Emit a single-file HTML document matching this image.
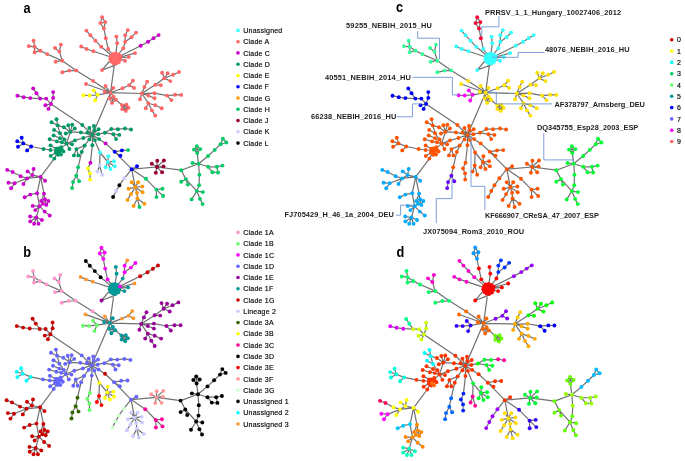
<!DOCTYPE html>
<html><head><meta charset="utf-8"><title>Figure</title>
<style>
html,body{margin:0;padding:0;background:#fff}
svg{display:block}
text{font-family:"Liberation Sans","DejaVu Sans",sans-serif;fill:#111}
.lg{font-size:7px;letter-spacing:0.22px;fill:#000;stroke:#000;stroke-width:0.15px}
.pl{font-size:14.5px;font-weight:bold;fill:#000}
.lb{font-size:7.4px;font-weight:bold;letter-spacing:0.1px;fill:#222}
</style></head><body>
<svg width="685" height="461" viewBox="0 0 685 461">
<rect width="685" height="461" fill="#fff"/>
<g transform="translate(0 0)">
<path d="M92.3 134.9L110.5 92.7M110.5 92.7L115.2 58.5M115.2 58.5L108.2 49M108.2 49L105.8 38.2M105.8 38.2L103.9 28.5M103.9 28.5L100.4 23.1M103.9 28.5L105.3 22.1M100.4 23.1L102.1 17.3M115.2 58.5L101.2 46.8M101.2 46.8L95.4 40.7M95.4 40.7L90.4 35.3M90.4 35.3L86.4 30.6M115.2 58.5L93.4 51.3M93.4 51.3L86.5 49M86.5 49L81.2 46.5M115.2 58.5L117.2 43.3M117.2 43.3L116.4 36.6M115.2 58.5L123.3 48.2M123.3 48.2L125.2 41.8M125.2 41.8L125.2 35.3M125.2 35.3L127.8 30.1M125.2 41.8L131.5 37.2M131.5 37.2L136 32.6M115.2 58.5L140.7 45.8M140.7 45.8L148.1 41.8M148.1 41.8L153.5 38.3M153.5 38.3L158.6 35.1M115.2 58.5L135 53.1M115.2 58.5L128.7 57M115.2 58.5L125 60.7M115.2 58.5L120.5 56M110.5 92.7L93.1 80.9M93.1 80.9L76.2 70.4M76.2 70.4L62.3 60.7M62.3 60.7L47.2 54.1M47.2 54.1L40.4 50.7M40.4 50.7L34.6 46.8M34.6 46.8L33.6 40.7M34.6 46.8L28.8 46.1M40.4 50.7L34.6 52.2M76.2 70.4L69.3 70.6M69.3 70.6L62.3 72.3M62.3 60.7L55.6 61.7M62.3 60.7L59.4 51.6M59.4 51.6L60.9 44.6M59.4 51.6L55 48M110.5 92.7L86 84M110.5 92.7L105.5 86M110.5 92.7L104.8 91.7M110.5 92.7L113.3 87.9M110.5 92.7L97.5 94.8M97.5 94.8L93.7 90.4M97.5 94.8L89.6 95.5M89.6 95.5L83.5 95.3M97.5 94.8L95.1 100.5M110.5 92.7L122.5 88.2M122.5 88.2L129.2 85.3M129.2 85.3L132.9 80.7M129.2 85.3L134 87.9M110.5 92.7L113.5 96.6M110.5 92.7L109.7 98.4M113.5 96.6L115.9 99.8M109.7 98.4L112 102.9M115.9 99.8L122 105.1M122 105.1L126.4 104.7M126.4 104.7L128.4 107.8M128.4 107.8L125.8 110.9M125.8 110.9L122.2 109.1M110.5 92.7L141.7 93.5M141.7 93.5L144.5 87M144.5 87L147.1 81.8M141.7 93.5L155.3 84.8M155.3 84.8L160.8 85.2M155.3 84.8L164.3 78.3M164.3 78.3L162.1 72.7M164.3 78.3L167.7 73.3M164.3 78.3L173.1 74.8M173.1 74.8L179 72M164.3 78.3L170.3 81.1M141.7 93.5L154.5 93.2M154.5 93.2L167 95.6M167 95.6L175.1 94.8M175.1 94.8L181.2 94.9M167 95.6L171.4 100.1M141.7 93.5L148.4 95.6M148.4 95.6L154.5 98.2M141.7 93.5L140 99.3M141.7 93.5L148.4 103.2M148.4 103.2L155.3 105.3M155.3 105.3L161.7 108.2M148.4 103.2L145.8 108.2M148.4 103.2L151.9 110.4M151.9 110.4L155.3 115.6M92.3 134.9L82.3 125M92.3 134.9L89.4 128M92.3 134.9L93.9 126M92.3 134.9L98.6 129.2M92.3 134.9L94.5 130.2M92.3 134.9L98.2 134.3M92.3 134.9L104.9 132.8M92.3 134.9L99.1 139.1M92.3 134.9L94.9 140.1M92.3 134.9L89.4 139.4M92.3 134.9L92.4 145.2M92.3 134.9L87.5 132.4M92.3 134.9L80.9 132.4M92.3 134.9L83.4 138M83.4 138L74.9 140.4M92.3 134.9L84.7 145.5M82.3 125L51 103.9M51 103.9L46.2 98.6M46.2 98.6L40.3 98.6M40.3 98.6L30.3 98.1M30.3 98.1L23.7 97.2M23.7 97.2L17.4 95.7M40.3 98.6L36.4 93.2M36.4 93.2L33.2 88.4M51 103.9L53.2 97.9M53.2 97.9L53.2 92.1M51 103.9L45.4 105.2M51 103.9L48.5 108.9M104.9 132.8L111.3 129M111.3 129L117.9 129.2M117.9 129.2L125 128.5M125 128.5L131 129.5M104.9 132.8L113.4 134.2M113.4 134.2L119.3 134.9M113.4 134.2L116.1 139.1M92.3 134.9L105.6 143.4M105.6 143.4L114.7 151.8M114.7 151.8L131.7 169.2M114.7 151.8L121.9 150.4M121.9 150.4L128.1 150.1M114.7 151.8L120.4 155.8M131.7 169.2L137 166.3M92.3 134.9L100 152.5M100 152.5L107.8 162M107.8 162L108.3 156.3M107.8 162L114 161.3M107.8 162L114.7 166.3M107.8 162L110.4 169M107.8 162L105.6 167.3M100 152.5L99.6 165.5M99.6 165.5L97.5 171.6M99.6 165.5L102.1 174.7M92.4 145.2L90.4 162.7M90.4 162.7L87.9 168.5M87.9 168.5L90 173.4M90 173.4L90.1 179.6M84.7 145.5L81.7 151.9M81.7 151.9L78.1 167.3M78.1 167.3L76.3 175.8M76.3 175.8L73 182.1M73 182.1L72.1 188.1M76.3 175.8L79.1 181.2M84.7 145.5L76.4 149.1M76.4 149.1L73.9 155.4M76.4 149.1L78.4 155.4M80.9 132.4L70.3 131.9M70.3 131.9L68.3 125.3M70.3 131.9L72.3 124.7M70.3 131.9L74.8 128.5M70.3 131.9L65.8 133.5M70.3 131.9L63.9 127.3M63.9 127.3L57.7 125.4M57.7 125.4L56.5 119.2M57.7 125.4L51.6 122.3M74.9 140.4L66.5 143.6M66.5 143.6L72 144.2M66.5 143.6L69.4 149M66.5 143.6L64.5 139.5M64.5 139.5L60 133.3M60 133.3L54.1 129.9M64.5 139.5L60 138.2M60 138.2L53.6 135.4M66.5 143.6L61.9 142.3M61.9 142.3L56.9 141.4M56.9 141.4L49.7 139.2M66.5 143.6L59.1 150.4M59.1 150.4L56 150.9M59.1 150.4L58.2 148.5M59.1 150.4L61.2 147.1M59.1 150.4L62 150M59.1 150.4L63.4 151.4M59.1 150.4L59.1 152.4M59.1 150.4L61 154.5M59.1 150.4L58.1 154.7M59.1 150.4L55.8 152.8M59.1 150.4L57.2 150M59.1 150.4L60.5 149.2M59.1 150.4L56.2 148.6M59.1 150.4L50.5 150M50.5 150L43.5 149M59.1 150.4L50.5 145.4M59.1 150.4L50.7 155.9M59.1 150.4L54.3 158.6M43.5 149L31.2 146.5M31.2 146.5L23.4 143.4M23.4 143.4L21.7 137.8M23.4 143.4L17.3 141.3M23.4 143.4L18 146.7M31.2 146.5L27.1 150.4M54.3 158.6L40.6 176.9M40.6 176.9L45.1 180.7M40.6 176.9L32.5 175.1M32.5 175.1L33.6 169M32.5 175.1L27.6 171.4M40.6 176.9L27.1 178.4M27.1 178.4L20.6 176.2M20.6 176.2L12.6 172M12.6 172L7.2 169.9M27.1 178.4L14.6 183.3M14.6 183.3L8.5 182.7M14.6 183.3L11.1 188.2M27.1 178.4L23.4 184M40.6 176.9L37.1 193.2M37.1 193.2L30.3 194.6M30.3 194.6L24.7 197.2M40.6 176.9L44 193.6M44 193.6L41.2 201M44 193.6L44.9 199.3M44.9 199.3L48.3 201M44.9 199.3L46.3 204.9M44.9 199.3L43 203.8M37.1 193.2L39.5 206.2M39.5 206.2L32.7 205.9M39.5 206.2L35.3 210.1M39.5 206.2L44.7 211.6M44.7 211.6L49.7 215.5M39.5 206.2L36.3 217.5M36.3 217.5L30.1 216.5M36.3 217.5L30.3 221.4M36.3 217.5L34.1 223.8M36.3 217.5L38.5 223.8M36.3 217.5L41.9 220M131.7 169.2L124.3 178.3M124.3 178.3L119.4 185.2M119.4 185.2L116.2 191M116.2 191L113.1 197M131.7 169.2L135.2 187.2M135.2 187.2L131.7 182.2M135.2 187.2L138.1 182.2M135.2 187.2L142.3 186.5M135.2 187.2L128.6 188.8M135.2 187.2L131 194.1M135.2 187.2L137 192.7M135.2 187.2L142.6 192.2M131 194.1L127.5 199.9M137 192.7L137.4 198.4M137.4 198.4L133.6 205.9M137.4 198.4L139.5 207M137.4 198.4L144.4 203.7M131.7 169.2L145.9 178.8M145.9 178.8L156.4 189.6M156.4 189.6L162.5 188.8M156.4 189.6L156.5 197.1M156.4 189.6L163.1 196M131.7 169.2L156.9 167M156.9 167L151.8 163.8M156.9 167L157.3 160.8M156.9 167L163.9 160.5M156.9 167L163.5 166.4M156.9 167L162.1 172.3M156.9 167L155.8 172.7M156.9 167L181.2 170.2M181.2 170.2L198.6 163.8M198.6 163.8L192.5 163M198.6 163.8L197.2 153.1M197.2 153.1L193.9 149.6M193.9 149.6L196.8 146.1M197.2 153.1L200.3 149.1M198.6 163.8L208.1 156M208.1 156L214.7 149.9M214.7 149.9L220.6 144.2M220.6 144.2L222.9 138.7M220.6 144.2L226.3 142.5M198.6 163.8L208.1 166.8M208.1 166.8L216.8 166.8M216.8 166.8L222.5 165.6M208.1 166.8L212.4 172.2M212.4 172.2L218 172.5M198.6 163.8L199.4 174.8M199.4 174.8L199.1 185.2M199.1 185.2L196.8 191.1M181.2 170.2L185.9 179.1M185.9 179.1L181.2 181.7M185.9 179.1L187.8 184.6M196.8 191.1L202.9 192.1M196.8 191.1L191.6 199.4M196.8 191.1L200 198.9M200 198.9L202.6 204.1M105.3 22.1L102.1 17.3M100.4 23.1L105.3 22.1M34.6 46.8L34.6 52.2M113.5 96.6L109.7 98.4M115.9 99.8L112 102.9M113.5 96.6L112 102.9M109.7 98.4L115.9 99.8M122.2 109.1L122 105.1M122 105.1L128.4 107.8M126.4 104.7L125.8 110.9M126.4 104.7L122.2 109.1M128.4 107.8L122.2 109.1M122 105.1L125.8 110.9M218 172.5L216.8 166.8M222.9 138.7L226.3 142.5M196.8 146.1L200.3 149.1M193.9 149.6L200.3 149.1M197.2 153.1L196.8 146.1M185.9 179.1L196.8 191.1M70.3 131.9L66.5 143.6M32.5 175.1L27.1 178.4M43 203.8L39.5 206.2M41.2 201L43 203.8M48.3 201L46.3 204.9M57.7 125.4L60 133.3M109.7 61L102.1 70.1M116.7 64.5L102.1 70.1" fill="none" stroke="#707070" stroke-width="1.2"/>
<g fill="#009966">
<circle cx="92.3" cy="134.9" r="1.95"/>
<circle cx="82.3" cy="125" r="1.95"/>
<circle cx="89.4" cy="128" r="1.95"/>
<circle cx="93.9" cy="126" r="1.95"/>
<circle cx="98.6" cy="129.2" r="1.95"/>
<circle cx="94.5" cy="130.2" r="1.95"/>
<circle cx="98.2" cy="134.3" r="1.95"/>
<circle cx="104.9" cy="132.8" r="1.95"/>
<circle cx="99.1" cy="139.1" r="1.95"/>
<circle cx="94.9" cy="140.1" r="1.95"/>
<circle cx="89.4" cy="139.4" r="1.95"/>
<circle cx="92.4" cy="145.2" r="1.95"/>
<circle cx="87.5" cy="132.4" r="1.95"/>
<circle cx="80.9" cy="132.4" r="1.95"/>
<circle cx="83.4" cy="138" r="1.95"/>
<circle cx="74.9" cy="140.4" r="1.95"/>
<circle cx="84.7" cy="145.5" r="1.95"/>
<circle cx="111.3" cy="129" r="1.95"/>
<circle cx="117.9" cy="129.2" r="1.95"/>
<circle cx="125" cy="128.5" r="1.95"/>
<circle cx="131" cy="129.5" r="1.95"/>
<circle cx="113.4" cy="134.2" r="1.95"/>
<circle cx="119.3" cy="134.9" r="1.95"/>
<circle cx="116.1" cy="139.1" r="1.95"/>
<circle cx="81.7" cy="151.9" r="1.95"/>
<circle cx="76.4" cy="149.1" r="1.95"/>
<circle cx="73.9" cy="155.4" r="1.95"/>
<circle cx="78.4" cy="155.4" r="1.95"/>
<circle cx="70.3" cy="131.9" r="1.95"/>
<circle cx="68.3" cy="125.3" r="1.95"/>
<circle cx="72.3" cy="124.7" r="1.95"/>
<circle cx="74.8" cy="128.5" r="1.95"/>
<circle cx="65.8" cy="133.5" r="1.95"/>
<circle cx="63.9" cy="127.3" r="1.95"/>
<circle cx="57.7" cy="125.4" r="1.95"/>
<circle cx="56.5" cy="119.2" r="1.95"/>
<circle cx="51.6" cy="122.3" r="1.95"/>
<circle cx="66.5" cy="143.6" r="1.95"/>
<circle cx="72" cy="144.2" r="1.95"/>
<circle cx="69.4" cy="149" r="1.95"/>
<circle cx="64.5" cy="139.5" r="1.95"/>
<circle cx="60" cy="133.3" r="1.95"/>
<circle cx="54.1" cy="129.9" r="1.95"/>
<circle cx="60" cy="138.2" r="1.95"/>
<circle cx="53.6" cy="135.4" r="1.95"/>
<circle cx="61.9" cy="142.3" r="1.95"/>
<circle cx="56.9" cy="141.4" r="1.95"/>
<circle cx="49.7" cy="139.2" r="1.95"/>
<circle cx="59.1" cy="150.4" r="1.95"/>
<circle cx="56" cy="150.9" r="1.95"/>
<circle cx="58.2" cy="148.5" r="1.95"/>
<circle cx="61.2" cy="147.1" r="1.95"/>
<circle cx="62" cy="150" r="1.95"/>
<circle cx="63.4" cy="151.4" r="1.95"/>
<circle cx="59.1" cy="152.4" r="1.95"/>
<circle cx="61" cy="154.5" r="1.95"/>
<circle cx="58.1" cy="154.7" r="1.95"/>
<circle cx="55.8" cy="152.8" r="1.95"/>
<circle cx="57.2" cy="150" r="1.95"/>
<circle cx="60.5" cy="149.2" r="1.95"/>
<circle cx="56.2" cy="148.6" r="1.95"/>
<circle cx="50.5" cy="150" r="1.95"/>
<circle cx="43.5" cy="149" r="1.95"/>
<circle cx="50.5" cy="145.4" r="1.95"/>
<circle cx="50.7" cy="155.9" r="1.95"/>
<circle cx="54.3" cy="158.6" r="1.95"/>
</g>
<g fill="#FF6666">
<circle cx="110.5" cy="92.7" r="1.95"/>
<circle cx="115.2" cy="58.5" r="5.3"/>
<circle cx="120.1" cy="59.5" r="1.95"/>
<circle cx="118.8" cy="62" r="1.95"/>
<circle cx="116.3" cy="63.4" r="1.95"/>
<circle cx="113.5" cy="63.2" r="1.95"/>
<circle cx="111.2" cy="61.6" r="1.95"/>
<circle cx="110.2" cy="58.9" r="1.95"/>
<circle cx="110.8" cy="56.2" r="1.95"/>
<circle cx="112.7" cy="54.1" r="1.95"/>
<circle cx="115.5" cy="53.5" r="1.95"/>
<circle cx="118.1" cy="54.5" r="1.95"/>
<circle cx="119.9" cy="56.7" r="1.95"/>
<circle cx="108.2" cy="49" r="1.95"/>
<circle cx="105.8" cy="38.2" r="1.95"/>
<circle cx="103.9" cy="28.5" r="1.95"/>
<circle cx="100.4" cy="23.1" r="1.95"/>
<circle cx="105.3" cy="22.1" r="1.95"/>
<circle cx="102.1" cy="17.3" r="1.95"/>
<circle cx="101.2" cy="46.8" r="1.95"/>
<circle cx="95.4" cy="40.7" r="1.95"/>
<circle cx="90.4" cy="35.3" r="1.95"/>
<circle cx="86.4" cy="30.6" r="1.95"/>
<circle cx="93.4" cy="51.3" r="1.95"/>
<circle cx="86.5" cy="49" r="1.95"/>
<circle cx="81.2" cy="46.5" r="1.95"/>
<circle cx="117.2" cy="43.3" r="1.95"/>
<circle cx="116.4" cy="36.6" r="1.95"/>
<circle cx="123.3" cy="48.2" r="1.95"/>
<circle cx="125.2" cy="41.8" r="1.95"/>
<circle cx="125.2" cy="35.3" r="1.95"/>
<circle cx="127.8" cy="30.1" r="1.95"/>
<circle cx="131.5" cy="37.2" r="1.95"/>
<circle cx="136" cy="32.6" r="1.95"/>
<circle cx="135" cy="53.1" r="1.95"/>
<circle cx="128.7" cy="57" r="1.95"/>
<circle cx="125" cy="60.7" r="1.95"/>
<circle cx="102.1" cy="70.1" r="1.95"/>
<circle cx="120.5" cy="56" r="1.95"/>
<circle cx="93.1" cy="80.9" r="1.95"/>
<circle cx="76.2" cy="70.4" r="1.95"/>
<circle cx="62.3" cy="60.7" r="1.95"/>
<circle cx="47.2" cy="54.1" r="1.95"/>
<circle cx="40.4" cy="50.7" r="1.95"/>
<circle cx="34.6" cy="46.8" r="1.95"/>
<circle cx="33.6" cy="40.7" r="1.95"/>
<circle cx="28.8" cy="46.1" r="1.95"/>
<circle cx="34.6" cy="52.2" r="1.95"/>
<circle cx="69.3" cy="70.6" r="1.95"/>
<circle cx="62.3" cy="72.3" r="1.95"/>
<circle cx="55.6" cy="61.7" r="1.95"/>
<circle cx="59.4" cy="51.6" r="1.95"/>
<circle cx="60.9" cy="44.6" r="1.95"/>
<circle cx="55" cy="48" r="1.95"/>
<circle cx="86" cy="84" r="1.95"/>
<circle cx="105.5" cy="86" r="1.95"/>
<circle cx="104.8" cy="91.7" r="1.95"/>
<circle cx="113.3" cy="87.9" r="1.95"/>
<circle cx="122.5" cy="88.2" r="1.95"/>
<circle cx="129.2" cy="85.3" r="1.95"/>
<circle cx="132.9" cy="80.7" r="1.95"/>
<circle cx="134" cy="87.9" r="1.95"/>
<circle cx="113.5" cy="96.6" r="1.95"/>
<circle cx="109.7" cy="98.4" r="1.95"/>
<circle cx="115.9" cy="99.8" r="1.95"/>
<circle cx="112" cy="102.9" r="1.95"/>
<circle cx="122" cy="105.1" r="1.95"/>
<circle cx="126.4" cy="104.7" r="1.95"/>
<circle cx="128.4" cy="107.8" r="1.95"/>
<circle cx="125.8" cy="110.9" r="1.95"/>
<circle cx="122.2" cy="109.1" r="1.95"/>
<circle cx="141.7" cy="93.5" r="1.95"/>
<circle cx="144.5" cy="87" r="1.95"/>
<circle cx="147.1" cy="81.8" r="1.95"/>
<circle cx="155.3" cy="84.8" r="1.95"/>
<circle cx="160.8" cy="85.2" r="1.95"/>
<circle cx="164.3" cy="78.3" r="1.95"/>
<circle cx="162.1" cy="72.7" r="1.95"/>
<circle cx="167.7" cy="73.3" r="1.95"/>
<circle cx="173.1" cy="74.8" r="1.95"/>
<circle cx="179" cy="72" r="1.95"/>
<circle cx="170.3" cy="81.1" r="1.95"/>
<circle cx="154.5" cy="93.2" r="1.95"/>
<circle cx="167" cy="95.6" r="1.95"/>
<circle cx="175.1" cy="94.8" r="1.95"/>
<circle cx="181.2" cy="94.9" r="1.95"/>
<circle cx="171.4" cy="100.1" r="1.95"/>
<circle cx="148.4" cy="95.6" r="1.95"/>
<circle cx="154.5" cy="98.2" r="1.95"/>
<circle cx="140" cy="99.3" r="1.95"/>
<circle cx="148.4" cy="103.2" r="1.95"/>
<circle cx="155.3" cy="105.3" r="1.95"/>
<circle cx="161.7" cy="108.2" r="1.95"/>
<circle cx="145.8" cy="108.2" r="1.95"/>
<circle cx="151.9" cy="110.4" r="1.95"/>
<circle cx="155.3" cy="115.6" r="1.95"/>
</g>
<g fill="#CC00CC">
<circle cx="140.7" cy="45.8" r="1.95"/>
<circle cx="148.1" cy="41.8" r="1.95"/>
<circle cx="153.5" cy="38.3" r="1.95"/>
<circle cx="158.6" cy="35.1" r="1.95"/>
<circle cx="51" cy="103.9" r="1.95"/>
<circle cx="46.2" cy="98.6" r="1.95"/>
<circle cx="40.3" cy="98.6" r="1.95"/>
<circle cx="30.3" cy="98.1" r="1.95"/>
<circle cx="23.7" cy="97.2" r="1.95"/>
<circle cx="17.4" cy="95.7" r="1.95"/>
<circle cx="36.4" cy="93.2" r="1.95"/>
<circle cx="33.2" cy="88.4" r="1.95"/>
<circle cx="53.2" cy="97.9" r="1.95"/>
<circle cx="53.2" cy="92.1" r="1.95"/>
<circle cx="45.4" cy="105.2" r="1.95"/>
<circle cx="48.5" cy="108.9" r="1.95"/>
<circle cx="105.6" cy="143.4" r="1.95"/>
<circle cx="90.4" cy="162.7" r="1.95"/>
<circle cx="40.6" cy="176.9" r="1.95"/>
<circle cx="45.1" cy="180.7" r="1.95"/>
<circle cx="32.5" cy="175.1" r="1.95"/>
<circle cx="33.6" cy="169" r="1.95"/>
<circle cx="27.6" cy="171.4" r="1.95"/>
<circle cx="27.1" cy="178.4" r="1.95"/>
<circle cx="20.6" cy="176.2" r="1.95"/>
<circle cx="12.6" cy="172" r="1.95"/>
<circle cx="7.2" cy="169.9" r="1.95"/>
<circle cx="14.6" cy="183.3" r="1.95"/>
<circle cx="8.5" cy="182.7" r="1.95"/>
<circle cx="11.1" cy="188.2" r="1.95"/>
<circle cx="23.4" cy="184" r="1.95"/>
<circle cx="37.1" cy="193.2" r="1.95"/>
<circle cx="30.3" cy="194.6" r="1.95"/>
<circle cx="24.7" cy="197.2" r="1.95"/>
<circle cx="44" cy="193.6" r="1.95"/>
<circle cx="41.2" cy="201" r="1.95"/>
<circle cx="44.9" cy="199.3" r="1.95"/>
<circle cx="48.3" cy="201" r="1.95"/>
<circle cx="46.3" cy="204.9" r="1.95"/>
<circle cx="43" cy="203.8" r="1.95"/>
<circle cx="39.5" cy="206.2" r="1.95"/>
<circle cx="32.7" cy="205.9" r="1.95"/>
<circle cx="35.3" cy="210.1" r="1.95"/>
<circle cx="44.7" cy="211.6" r="1.95"/>
<circle cx="49.7" cy="215.5" r="1.95"/>
<circle cx="36.3" cy="217.5" r="1.95"/>
<circle cx="30.1" cy="216.5" r="1.95"/>
<circle cx="30.3" cy="221.4" r="1.95"/>
<circle cx="34.1" cy="223.8" r="1.95"/>
<circle cx="38.5" cy="223.8" r="1.95"/>
<circle cx="41.9" cy="220" r="1.95"/>
</g>
<g fill="#FFFF00">
<circle cx="97.5" cy="94.8" r="1.95"/>
<circle cx="93.7" cy="90.4" r="1.95"/>
<circle cx="89.6" cy="95.5" r="1.95"/>
<circle cx="83.5" cy="95.3" r="1.95"/>
<circle cx="95.1" cy="100.5" r="1.95"/>
<circle cx="87.9" cy="168.5" r="1.95"/>
<circle cx="90" cy="173.4" r="1.95"/>
<circle cx="90.1" cy="179.6" r="1.95"/>
</g>
<g fill="#0000FF">
<circle cx="114.7" cy="151.8" r="1.95"/>
<circle cx="131.7" cy="169.2" r="1.95"/>
<circle cx="121.9" cy="150.4" r="1.95"/>
<circle cx="120.4" cy="155.8" r="1.95"/>
<circle cx="137" cy="166.3" r="1.95"/>
<circle cx="31.2" cy="146.5" r="1.95"/>
<circle cx="23.4" cy="143.4" r="1.95"/>
<circle cx="21.7" cy="137.8" r="1.95"/>
<circle cx="17.3" cy="141.3" r="1.95"/>
<circle cx="18" cy="146.7" r="1.95"/>
<circle cx="27.1" cy="150.4" r="1.95"/>
</g>
<g fill="#00CC66">
<circle cx="128.1" cy="150.1" r="1.95"/>
<circle cx="78.1" cy="167.3" r="1.95"/>
<circle cx="76.3" cy="175.8" r="1.95"/>
<circle cx="73" cy="182.1" r="1.95"/>
<circle cx="72.1" cy="188.1" r="1.95"/>
<circle cx="79.1" cy="181.2" r="1.95"/>
<circle cx="139.5" cy="207" r="1.95"/>
<circle cx="145.9" cy="178.8" r="1.95"/>
<circle cx="156.4" cy="189.6" r="1.95"/>
<circle cx="162.5" cy="188.8" r="1.95"/>
<circle cx="156.5" cy="197.1" r="1.95"/>
<circle cx="163.1" cy="196" r="1.95"/>
<circle cx="181.2" cy="170.2" r="1.95"/>
<circle cx="198.6" cy="163.8" r="1.95"/>
<circle cx="192.5" cy="163" r="1.95"/>
<circle cx="197.2" cy="153.1" r="1.95"/>
<circle cx="193.9" cy="149.6" r="1.95"/>
<circle cx="196.8" cy="146.1" r="1.95"/>
<circle cx="200.3" cy="149.1" r="1.95"/>
<circle cx="208.1" cy="156" r="1.95"/>
<circle cx="214.7" cy="149.9" r="1.95"/>
<circle cx="220.6" cy="144.2" r="1.95"/>
<circle cx="222.9" cy="138.7" r="1.95"/>
<circle cx="226.3" cy="142.5" r="1.95"/>
<circle cx="208.1" cy="166.8" r="1.95"/>
<circle cx="216.8" cy="166.8" r="1.95"/>
<circle cx="222.5" cy="165.6" r="1.95"/>
<circle cx="212.4" cy="172.2" r="1.95"/>
<circle cx="218" cy="172.5" r="1.95"/>
<circle cx="199.4" cy="174.8" r="1.95"/>
<circle cx="199.1" cy="185.2" r="1.95"/>
<circle cx="196.8" cy="191.1" r="1.95"/>
<circle cx="185.9" cy="179.1" r="1.95"/>
<circle cx="181.2" cy="181.7" r="1.95"/>
<circle cx="187.8" cy="184.6" r="1.95"/>
<circle cx="202.9" cy="192.1" r="1.95"/>
<circle cx="191.6" cy="199.4" r="1.95"/>
<circle cx="200" cy="198.9" r="1.95"/>
<circle cx="202.6" cy="204.1" r="1.95"/>
</g>
<g fill="#33FFFF">
<circle cx="100" cy="152.5" r="1.95"/>
<circle cx="107.8" cy="162" r="1.95"/>
<circle cx="108.3" cy="156.3" r="1.95"/>
<circle cx="114" cy="161.3" r="1.95"/>
<circle cx="114.7" cy="166.3" r="1.95"/>
<circle cx="110.4" cy="169" r="1.95"/>
<circle cx="105.6" cy="167.3" r="1.95"/>
</g>
<g fill="#CCCCFF">
<circle cx="99.6" cy="165.5" r="1.95"/>
<circle cx="97.5" cy="171.6" r="1.95"/>
<circle cx="102.1" cy="174.7" r="1.95"/>
<circle cx="124.3" cy="178.3" r="1.95"/>
<circle cx="116.2" cy="191" r="1.95"/>
</g>
<g fill="#000000">
<circle cx="119.4" cy="185.2" r="1.95"/>
<circle cx="113.1" cy="197" r="1.95"/>
</g>
<g fill="#FF9900">
<circle cx="135.2" cy="187.2" r="1.95"/>
<circle cx="131.7" cy="182.2" r="1.95"/>
<circle cx="138.1" cy="182.2" r="1.95"/>
<circle cx="142.3" cy="186.5" r="1.95"/>
<circle cx="128.6" cy="188.8" r="1.95"/>
<circle cx="131" cy="194.1" r="1.95"/>
<circle cx="137" cy="192.7" r="1.95"/>
<circle cx="142.6" cy="192.2" r="1.95"/>
<circle cx="127.5" cy="199.9" r="1.95"/>
<circle cx="137.4" cy="198.4" r="1.95"/>
<circle cx="133.6" cy="205.9" r="1.95"/>
<circle cx="144.4" cy="203.7" r="1.95"/>
</g>
<g fill="#990033">
<circle cx="156.9" cy="167" r="1.95"/>
<circle cx="151.8" cy="163.8" r="1.95"/>
<circle cx="157.3" cy="160.8" r="1.95"/>
<circle cx="163.9" cy="160.5" r="1.95"/>
<circle cx="163.5" cy="166.4" r="1.95"/>
<circle cx="162.1" cy="172.3" r="1.95"/>
<circle cx="155.8" cy="172.7" r="1.95"/>
</g>
</g>
<g transform="translate(-0.6 230.4)">
<path d="M92.3 134.9L110.5 92.7M110.5 92.7L115.2 58.5M115.2 58.5L108.2 49M108.2 49L105.8 38.2M105.8 38.2L103.9 28.5M103.9 28.5L100.4 23.1M103.9 28.5L105.3 22.1M100.4 23.1L102.1 17.3M115.2 58.5L101.2 46.8M101.2 46.8L95.4 40.7M95.4 40.7L90.4 35.3M90.4 35.3L86.4 30.6M115.2 58.5L93.4 51.3M93.4 51.3L86.5 49M86.5 49L81.2 46.5M115.2 58.5L117.2 43.3M117.2 43.3L116.4 36.6M115.2 58.5L123.3 48.2M123.3 48.2L125.2 41.8M125.2 41.8L125.2 35.3M125.2 35.3L127.8 30.1M125.2 41.8L131.5 37.2M131.5 37.2L136 32.6M115.2 58.5L140.7 45.8M140.7 45.8L148.1 41.8M148.1 41.8L153.5 38.3M153.5 38.3L158.6 35.1M115.2 58.5L135 53.1M115.2 58.5L128.7 57M115.2 58.5L125 60.7M115.2 58.5L120.5 56M110.5 92.7L93.1 80.9M93.1 80.9L76.2 70.4M76.2 70.4L62.3 60.7M62.3 60.7L47.2 54.1M47.2 54.1L40.4 50.7M40.4 50.7L34.6 46.8M34.6 46.8L33.6 40.7M34.6 46.8L28.8 46.1M40.4 50.7L34.6 52.2M76.2 70.4L69.3 70.6M69.3 70.6L62.3 72.3M62.3 60.7L55.6 61.7M62.3 60.7L59.4 51.6M59.4 51.6L60.9 44.6M59.4 51.6L55 48M110.5 92.7L86 84M110.5 92.7L105.5 86M110.5 92.7L104.8 91.7M110.5 92.7L113.3 87.9M110.5 92.7L97.5 94.8M97.5 94.8L93.7 90.4M97.5 94.8L89.6 95.5M89.6 95.5L83.5 95.3M97.5 94.8L95.1 100.5M110.5 92.7L122.5 88.2M122.5 88.2L129.2 85.3M129.2 85.3L132.9 80.7M129.2 85.3L134 87.9M110.5 92.7L113.5 96.6M110.5 92.7L109.7 98.4M113.5 96.6L115.9 99.8M109.7 98.4L112 102.9M115.9 99.8L122 105.1M122 105.1L126.4 104.7M126.4 104.7L128.4 107.8M128.4 107.8L125.8 110.9M125.8 110.9L122.2 109.1M110.5 92.7L141.7 93.5M141.7 93.5L144.5 87M144.5 87L147.1 81.8M141.7 93.5L155.3 84.8M155.3 84.8L160.8 85.2M155.3 84.8L164.3 78.3M164.3 78.3L162.1 72.7M164.3 78.3L167.7 73.3M164.3 78.3L173.1 74.8M173.1 74.8L179 72M164.3 78.3L170.3 81.1M141.7 93.5L154.5 93.2M154.5 93.2L167 95.6M167 95.6L175.1 94.8M175.1 94.8L181.2 94.9M167 95.6L171.4 100.1M141.7 93.5L148.4 95.6M148.4 95.6L154.5 98.2M141.7 93.5L140 99.3M141.7 93.5L148.4 103.2M148.4 103.2L155.3 105.3M155.3 105.3L161.7 108.2M148.4 103.2L145.8 108.2M148.4 103.2L151.9 110.4M151.9 110.4L155.3 115.6M92.3 134.9L82.3 125M92.3 134.9L89.4 128M92.3 134.9L93.9 126M92.3 134.9L98.6 129.2M92.3 134.9L94.5 130.2M92.3 134.9L98.2 134.3M92.3 134.9L104.9 132.8M92.3 134.9L99.1 139.1M92.3 134.9L94.9 140.1M92.3 134.9L89.4 139.4M92.3 134.9L92.4 145.2M92.3 134.9L87.5 132.4M92.3 134.9L80.9 132.4M92.3 134.9L83.4 138M83.4 138L74.9 140.4M92.3 134.9L84.7 145.5M82.3 125L51 103.9M51 103.9L46.2 98.6M46.2 98.6L40.3 98.6M40.3 98.6L30.3 98.1M30.3 98.1L23.7 97.2M23.7 97.2L17.4 95.7M40.3 98.6L36.4 93.2M36.4 93.2L33.2 88.4M51 103.9L53.2 97.9M53.2 97.9L53.2 92.1M51 103.9L45.4 105.2M51 103.9L48.5 108.9M104.9 132.8L111.3 129M111.3 129L117.9 129.2M117.9 129.2L125 128.5M125 128.5L131 129.5M104.9 132.8L113.4 134.2M113.4 134.2L119.3 134.9M113.4 134.2L116.1 139.1M92.3 134.9L105.6 143.4M105.6 143.4L114.7 151.8M114.7 151.8L131.7 169.2M114.7 151.8L121.9 150.4M121.9 150.4L128.1 150.1M114.7 151.8L120.4 155.8M131.7 169.2L137 166.3M92.3 134.9L100 152.5M100 152.5L107.8 162M107.8 162L108.3 156.3M107.8 162L114 161.3M107.8 162L114.7 166.3M107.8 162L110.4 169M107.8 162L105.6 167.3M100 152.5L99.6 165.5M99.6 165.5L97.5 171.6M99.6 165.5L102.1 174.7M92.4 145.2L90.4 162.7M90.4 162.7L87.9 168.5M87.9 168.5L90 173.4M90 173.4L90.1 179.6M84.7 145.5L81.7 151.9M81.7 151.9L78.1 167.3M78.1 167.3L76.3 175.8M76.3 175.8L73 182.1M73 182.1L72.1 188.1M76.3 175.8L79.1 181.2M84.7 145.5L76.4 149.1M76.4 149.1L73.9 155.4M76.4 149.1L78.4 155.4M80.9 132.4L70.3 131.9M70.3 131.9L68.3 125.3M70.3 131.9L72.3 124.7M70.3 131.9L74.8 128.5M70.3 131.9L65.8 133.5M70.3 131.9L63.9 127.3M63.9 127.3L57.7 125.4M57.7 125.4L56.5 119.2M57.7 125.4L51.6 122.3M74.9 140.4L66.5 143.6M66.5 143.6L72 144.2M66.5 143.6L69.4 149M66.5 143.6L64.5 139.5M64.5 139.5L60 133.3M60 133.3L54.1 129.9M64.5 139.5L60 138.2M60 138.2L53.6 135.4M66.5 143.6L61.9 142.3M61.9 142.3L56.9 141.4M56.9 141.4L49.7 139.2M66.5 143.6L59.1 150.4M59.1 150.4L56 150.9M59.1 150.4L58.2 148.5M59.1 150.4L61.2 147.1M59.1 150.4L62 150M59.1 150.4L63.4 151.4M59.1 150.4L59.1 152.4M59.1 150.4L61 154.5M59.1 150.4L58.1 154.7M59.1 150.4L55.8 152.8M59.1 150.4L57.2 150M59.1 150.4L60.5 149.2M59.1 150.4L56.2 148.6M59.1 150.4L50.5 150M50.5 150L43.5 149M59.1 150.4L50.5 145.4M59.1 150.4L50.7 155.9M59.1 150.4L54.3 158.6M43.5 149L31.2 146.5M31.2 146.5L23.4 143.4M23.4 143.4L21.7 137.8M23.4 143.4L17.3 141.3M23.4 143.4L18 146.7M31.2 146.5L27.1 150.4M54.3 158.6L40.6 176.9M40.6 176.9L45.1 180.7M40.6 176.9L32.5 175.1M32.5 175.1L33.6 169M32.5 175.1L27.6 171.4M40.6 176.9L27.1 178.4M27.1 178.4L20.6 176.2M20.6 176.2L12.6 172M12.6 172L7.2 169.9M27.1 178.4L14.6 183.3M14.6 183.3L8.5 182.7M14.6 183.3L11.1 188.2M27.1 178.4L23.4 184M40.6 176.9L37.1 193.2M37.1 193.2L30.3 194.6M30.3 194.6L24.7 197.2M40.6 176.9L44 193.6M44 193.6L41.2 201M44 193.6L44.9 199.3M44.9 199.3L48.3 201M44.9 199.3L46.3 204.9M44.9 199.3L43 203.8M37.1 193.2L39.5 206.2M39.5 206.2L32.7 205.9M39.5 206.2L35.3 210.1M39.5 206.2L44.7 211.6M44.7 211.6L49.7 215.5M39.5 206.2L36.3 217.5M36.3 217.5L30.1 216.5M36.3 217.5L30.3 221.4M36.3 217.5L34.1 223.8M36.3 217.5L38.5 223.8M36.3 217.5L41.9 220M131.7 169.2L124.3 178.3M124.3 178.3L119.4 185.2M119.4 185.2L116.2 191M116.2 191L113.1 197M131.7 169.2L135.2 187.2M135.2 187.2L131.7 182.2M135.2 187.2L138.1 182.2M135.2 187.2L142.3 186.5M135.2 187.2L128.6 188.8M135.2 187.2L131 194.1M135.2 187.2L137 192.7M135.2 187.2L142.6 192.2M131 194.1L127.5 199.9M137 192.7L137.4 198.4M137.4 198.4L133.6 205.9M137.4 198.4L139.5 207M137.4 198.4L144.4 203.7M131.7 169.2L145.9 178.8M145.9 178.8L156.4 189.6M156.4 189.6L162.5 188.8M156.4 189.6L156.5 197.1M156.4 189.6L163.1 196M131.7 169.2L156.9 167M156.9 167L151.8 163.8M156.9 167L157.3 160.8M156.9 167L163.9 160.5M156.9 167L163.5 166.4M156.9 167L162.1 172.3M156.9 167L155.8 172.7M156.9 167L181.2 170.2M181.2 170.2L198.6 163.8M198.6 163.8L192.5 163M198.6 163.8L197.2 153.1M197.2 153.1L193.9 149.6M193.9 149.6L196.8 146.1M197.2 153.1L200.3 149.1M198.6 163.8L208.1 156M208.1 156L214.7 149.9M214.7 149.9L220.6 144.2M220.6 144.2L222.9 138.7M220.6 144.2L226.3 142.5M198.6 163.8L208.1 166.8M208.1 166.8L216.8 166.8M216.8 166.8L222.5 165.6M208.1 166.8L212.4 172.2M212.4 172.2L218 172.5M198.6 163.8L199.4 174.8M199.4 174.8L199.1 185.2M199.1 185.2L196.8 191.1M181.2 170.2L185.9 179.1M185.9 179.1L181.2 181.7M185.9 179.1L187.8 184.6M196.8 191.1L202.9 192.1M196.8 191.1L191.6 199.4M196.8 191.1L200 198.9M200 198.9L202.6 204.1M105.3 22.1L102.1 17.3M100.4 23.1L105.3 22.1M34.6 46.8L34.6 52.2M113.5 96.6L109.7 98.4M115.9 99.8L112 102.9M113.5 96.6L112 102.9M109.7 98.4L115.9 99.8M122.2 109.1L122 105.1M122 105.1L128.4 107.8M126.4 104.7L125.8 110.9M126.4 104.7L122.2 109.1M128.4 107.8L122.2 109.1M122 105.1L125.8 110.9M218 172.5L216.8 166.8M222.9 138.7L226.3 142.5M196.8 146.1L200.3 149.1M193.9 149.6L200.3 149.1M197.2 153.1L196.8 146.1M185.9 179.1L196.8 191.1M70.3 131.9L66.5 143.6M32.5 175.1L27.1 178.4M43 203.8L39.5 206.2M41.2 201L43 203.8M48.3 201L46.3 204.9M57.7 125.4L60 133.3M109.7 61L102.1 70.1M116.7 64.5L102.1 70.1" fill="none" stroke="#707070" stroke-width="1.2"/>
<g fill="#6666FF">
<circle cx="92.3" cy="134.9" r="1.95"/>
<circle cx="82.3" cy="125" r="1.95"/>
<circle cx="89.4" cy="128" r="1.95"/>
<circle cx="93.9" cy="126" r="1.95"/>
<circle cx="98.6" cy="129.2" r="1.95"/>
<circle cx="94.5" cy="130.2" r="1.95"/>
<circle cx="98.2" cy="134.3" r="1.95"/>
<circle cx="104.9" cy="132.8" r="1.95"/>
<circle cx="99.1" cy="139.1" r="1.95"/>
<circle cx="94.9" cy="140.1" r="1.95"/>
<circle cx="89.4" cy="139.4" r="1.95"/>
<circle cx="92.4" cy="145.2" r="1.95"/>
<circle cx="87.5" cy="132.4" r="1.95"/>
<circle cx="80.9" cy="132.4" r="1.95"/>
<circle cx="83.4" cy="138" r="1.95"/>
<circle cx="74.9" cy="140.4" r="1.95"/>
<circle cx="84.7" cy="145.5" r="1.95"/>
<circle cx="111.3" cy="129" r="1.95"/>
<circle cx="117.9" cy="129.2" r="1.95"/>
<circle cx="125" cy="128.5" r="1.95"/>
<circle cx="131" cy="129.5" r="1.95"/>
<circle cx="113.4" cy="134.2" r="1.95"/>
<circle cx="119.3" cy="134.9" r="1.95"/>
<circle cx="116.1" cy="139.1" r="1.95"/>
<circle cx="114.7" cy="151.8" r="1.95"/>
<circle cx="131.7" cy="169.2" r="1.95"/>
<circle cx="121.9" cy="150.4" r="1.95"/>
<circle cx="128.1" cy="150.1" r="1.95"/>
<circle cx="120.4" cy="155.8" r="1.95"/>
<circle cx="137" cy="166.3" r="1.95"/>
<circle cx="81.7" cy="151.9" r="1.95"/>
<circle cx="76.4" cy="149.1" r="1.95"/>
<circle cx="73.9" cy="155.4" r="1.95"/>
<circle cx="78.4" cy="155.4" r="1.95"/>
<circle cx="70.3" cy="131.9" r="1.95"/>
<circle cx="68.3" cy="125.3" r="1.95"/>
<circle cx="72.3" cy="124.7" r="1.95"/>
<circle cx="74.8" cy="128.5" r="1.95"/>
<circle cx="65.8" cy="133.5" r="1.95"/>
<circle cx="63.9" cy="127.3" r="1.95"/>
<circle cx="57.7" cy="125.4" r="1.95"/>
<circle cx="56.5" cy="119.2" r="1.95"/>
<circle cx="51.6" cy="122.3" r="1.95"/>
<circle cx="66.5" cy="143.6" r="1.95"/>
<circle cx="72" cy="144.2" r="1.95"/>
<circle cx="69.4" cy="149" r="1.95"/>
<circle cx="64.5" cy="139.5" r="1.95"/>
<circle cx="60" cy="133.3" r="1.95"/>
<circle cx="54.1" cy="129.9" r="1.95"/>
<circle cx="60" cy="138.2" r="1.95"/>
<circle cx="53.6" cy="135.4" r="1.95"/>
<circle cx="61.9" cy="142.3" r="1.95"/>
<circle cx="56.9" cy="141.4" r="1.95"/>
<circle cx="49.7" cy="139.2" r="1.95"/>
<circle cx="59.1" cy="150.4" r="1.95"/>
<circle cx="56" cy="150.9" r="1.95"/>
<circle cx="58.2" cy="148.5" r="1.95"/>
<circle cx="61.2" cy="147.1" r="1.95"/>
<circle cx="62" cy="150" r="1.95"/>
<circle cx="63.4" cy="151.4" r="1.95"/>
<circle cx="59.1" cy="152.4" r="1.95"/>
<circle cx="61" cy="154.5" r="1.95"/>
<circle cx="58.1" cy="154.7" r="1.95"/>
<circle cx="55.8" cy="152.8" r="1.95"/>
<circle cx="57.2" cy="150" r="1.95"/>
<circle cx="60.5" cy="149.2" r="1.95"/>
<circle cx="56.2" cy="148.6" r="1.95"/>
<circle cx="50.5" cy="150" r="1.95"/>
<circle cx="43.5" cy="149" r="1.95"/>
<circle cx="50.5" cy="145.4" r="1.95"/>
<circle cx="50.7" cy="155.9" r="1.95"/>
<circle cx="54.3" cy="158.6" r="1.95"/>
</g>
<g fill="#009999">
<circle cx="110.5" cy="92.7" r="1.95"/>
<circle cx="115.2" cy="58.5" r="5.3"/>
<circle cx="120.1" cy="59.5" r="1.95"/>
<circle cx="118.8" cy="62" r="1.95"/>
<circle cx="116.3" cy="63.4" r="1.95"/>
<circle cx="113.5" cy="63.2" r="1.95"/>
<circle cx="111.2" cy="61.6" r="1.95"/>
<circle cx="110.2" cy="58.9" r="1.95"/>
<circle cx="110.8" cy="56.2" r="1.95"/>
<circle cx="112.7" cy="54.1" r="1.95"/>
<circle cx="115.5" cy="53.5" r="1.95"/>
<circle cx="118.1" cy="54.5" r="1.95"/>
<circle cx="119.9" cy="56.7" r="1.95"/>
<circle cx="117.2" cy="43.3" r="1.95"/>
<circle cx="116.4" cy="36.6" r="1.95"/>
<circle cx="123.3" cy="48.2" r="1.95"/>
<circle cx="128.7" cy="57" r="1.95"/>
<circle cx="125" cy="60.7" r="1.95"/>
<circle cx="104.8" cy="91.7" r="1.95"/>
<circle cx="113.3" cy="87.9" r="1.95"/>
<circle cx="113.5" cy="96.6" r="1.95"/>
<circle cx="109.7" cy="98.4" r="1.95"/>
<circle cx="115.9" cy="99.8" r="1.95"/>
<circle cx="112" cy="102.9" r="1.95"/>
<circle cx="122" cy="105.1" r="1.95"/>
<circle cx="126.4" cy="104.7" r="1.95"/>
<circle cx="128.4" cy="107.8" r="1.95"/>
<circle cx="125.8" cy="110.9" r="1.95"/>
<circle cx="122.2" cy="109.1" r="1.95"/>
</g>
<g fill="#FF00FF">
<circle cx="108.2" cy="49" r="1.95"/>
<circle cx="105.8" cy="38.2" r="1.95"/>
<circle cx="103.9" cy="28.5" r="1.95"/>
<circle cx="100.4" cy="23.1" r="1.95"/>
<circle cx="105.3" cy="22.1" r="1.95"/>
<circle cx="102.1" cy="17.3" r="1.95"/>
<circle cx="125.2" cy="41.8" r="1.95"/>
<circle cx="125.2" cy="35.3" r="1.95"/>
<circle cx="131.5" cy="37.2" r="1.95"/>
<circle cx="136" cy="32.6" r="1.95"/>
<circle cx="120.5" cy="56" r="1.95"/>
</g>
<g fill="#000000">
<circle cx="101.2" cy="46.8" r="1.95"/>
<circle cx="95.4" cy="40.7" r="1.95"/>
<circle cx="90.4" cy="35.3" r="1.95"/>
<circle cx="86.4" cy="30.6" r="1.95"/>
<circle cx="181.2" cy="170.2" r="1.95"/>
<circle cx="198.6" cy="163.8" r="1.95"/>
<circle cx="192.5" cy="163" r="1.95"/>
<circle cx="197.2" cy="153.1" r="1.95"/>
<circle cx="193.9" cy="149.6" r="1.95"/>
<circle cx="196.8" cy="146.1" r="1.95"/>
<circle cx="200.3" cy="149.1" r="1.95"/>
<circle cx="208.1" cy="156" r="1.95"/>
<circle cx="214.7" cy="149.9" r="1.95"/>
<circle cx="220.6" cy="144.2" r="1.95"/>
<circle cx="222.9" cy="138.7" r="1.95"/>
<circle cx="226.3" cy="142.5" r="1.95"/>
<circle cx="208.1" cy="166.8" r="1.95"/>
<circle cx="216.8" cy="166.8" r="1.95"/>
<circle cx="222.5" cy="165.6" r="1.95"/>
<circle cx="212.4" cy="172.2" r="1.95"/>
<circle cx="218" cy="172.5" r="1.95"/>
<circle cx="199.4" cy="174.8" r="1.95"/>
<circle cx="199.1" cy="185.2" r="1.95"/>
<circle cx="196.8" cy="191.1" r="1.95"/>
<circle cx="185.9" cy="179.1" r="1.95"/>
<circle cx="181.2" cy="181.7" r="1.95"/>
<circle cx="187.8" cy="184.6" r="1.95"/>
<circle cx="202.9" cy="192.1" r="1.95"/>
<circle cx="191.6" cy="199.4" r="1.95"/>
<circle cx="200" cy="198.9" r="1.95"/>
<circle cx="202.6" cy="204.1" r="1.95"/>
</g>
<g fill="#FF9933">
<circle cx="93.4" cy="51.3" r="1.95"/>
<circle cx="86.5" cy="49" r="1.95"/>
<circle cx="81.2" cy="46.5" r="1.95"/>
<circle cx="127.8" cy="30.1" r="1.95"/>
<circle cx="135" cy="53.1" r="1.95"/>
<circle cx="86" cy="84" r="1.95"/>
<circle cx="105.5" cy="86" r="1.95"/>
<circle cx="122.5" cy="88.2" r="1.95"/>
<circle cx="129.2" cy="85.3" r="1.95"/>
<circle cx="132.9" cy="80.7" r="1.95"/>
<circle cx="134" cy="87.9" r="1.95"/>
</g>
<g fill="#CC0000">
<circle cx="140.7" cy="45.8" r="1.95"/>
<circle cx="148.1" cy="41.8" r="1.95"/>
<circle cx="153.5" cy="38.3" r="1.95"/>
<circle cx="158.6" cy="35.1" r="1.95"/>
<circle cx="51" cy="103.9" r="1.95"/>
<circle cx="46.2" cy="98.6" r="1.95"/>
<circle cx="40.3" cy="98.6" r="1.95"/>
<circle cx="30.3" cy="98.1" r="1.95"/>
<circle cx="23.7" cy="97.2" r="1.95"/>
<circle cx="17.4" cy="95.7" r="1.95"/>
<circle cx="36.4" cy="93.2" r="1.95"/>
<circle cx="33.2" cy="88.4" r="1.95"/>
<circle cx="53.2" cy="97.9" r="1.95"/>
<circle cx="53.2" cy="92.1" r="1.95"/>
<circle cx="45.4" cy="105.2" r="1.95"/>
<circle cx="48.5" cy="108.9" r="1.95"/>
<circle cx="105.6" cy="143.4" r="1.95"/>
<circle cx="40.6" cy="176.9" r="1.95"/>
<circle cx="45.1" cy="180.7" r="1.95"/>
<circle cx="32.5" cy="175.1" r="1.95"/>
<circle cx="33.6" cy="169" r="1.95"/>
<circle cx="27.6" cy="171.4" r="1.95"/>
<circle cx="27.1" cy="178.4" r="1.95"/>
<circle cx="20.6" cy="176.2" r="1.95"/>
<circle cx="12.6" cy="172" r="1.95"/>
<circle cx="7.2" cy="169.9" r="1.95"/>
<circle cx="14.6" cy="183.3" r="1.95"/>
<circle cx="8.5" cy="182.7" r="1.95"/>
<circle cx="11.1" cy="188.2" r="1.95"/>
<circle cx="23.4" cy="184" r="1.95"/>
<circle cx="37.1" cy="193.2" r="1.95"/>
<circle cx="30.3" cy="194.6" r="1.95"/>
<circle cx="24.7" cy="197.2" r="1.95"/>
<circle cx="44" cy="193.6" r="1.95"/>
<circle cx="41.2" cy="201" r="1.95"/>
<circle cx="44.9" cy="199.3" r="1.95"/>
<circle cx="48.3" cy="201" r="1.95"/>
<circle cx="46.3" cy="204.9" r="1.95"/>
<circle cx="43" cy="203.8" r="1.95"/>
<circle cx="39.5" cy="206.2" r="1.95"/>
<circle cx="32.7" cy="205.9" r="1.95"/>
<circle cx="35.3" cy="210.1" r="1.95"/>
<circle cx="44.7" cy="211.6" r="1.95"/>
<circle cx="49.7" cy="215.5" r="1.95"/>
<circle cx="36.3" cy="217.5" r="1.95"/>
<circle cx="30.1" cy="216.5" r="1.95"/>
<circle cx="30.3" cy="221.4" r="1.95"/>
<circle cx="34.1" cy="223.8" r="1.95"/>
<circle cx="38.5" cy="223.8" r="1.95"/>
<circle cx="41.9" cy="220" r="1.95"/>
</g>
<g fill="#990099">
<circle cx="102.1" cy="70.1" r="1.95"/>
<circle cx="141.7" cy="93.5" r="1.95"/>
<circle cx="144.5" cy="87" r="1.95"/>
<circle cx="147.1" cy="81.8" r="1.95"/>
<circle cx="155.3" cy="84.8" r="1.95"/>
<circle cx="160.8" cy="85.2" r="1.95"/>
<circle cx="164.3" cy="78.3" r="1.95"/>
<circle cx="162.1" cy="72.7" r="1.95"/>
<circle cx="167.7" cy="73.3" r="1.95"/>
<circle cx="173.1" cy="74.8" r="1.95"/>
<circle cx="179" cy="72" r="1.95"/>
<circle cx="170.3" cy="81.1" r="1.95"/>
<circle cx="154.5" cy="93.2" r="1.95"/>
<circle cx="167" cy="95.6" r="1.95"/>
<circle cx="175.1" cy="94.8" r="1.95"/>
<circle cx="181.2" cy="94.9" r="1.95"/>
<circle cx="171.4" cy="100.1" r="1.95"/>
<circle cx="148.4" cy="95.6" r="1.95"/>
<circle cx="154.5" cy="98.2" r="1.95"/>
<circle cx="140" cy="99.3" r="1.95"/>
<circle cx="148.4" cy="103.2" r="1.95"/>
<circle cx="155.3" cy="105.3" r="1.95"/>
<circle cx="161.7" cy="108.2" r="1.95"/>
<circle cx="145.8" cy="108.2" r="1.95"/>
<circle cx="151.9" cy="110.4" r="1.95"/>
<circle cx="155.3" cy="115.6" r="1.95"/>
</g>
<g fill="#FF99CC">
<circle cx="93.1" cy="80.9" r="1.95"/>
<circle cx="76.2" cy="70.4" r="1.95"/>
<circle cx="62.3" cy="60.7" r="1.95"/>
<circle cx="47.2" cy="54.1" r="1.95"/>
<circle cx="40.4" cy="50.7" r="1.95"/>
<circle cx="34.6" cy="46.8" r="1.95"/>
<circle cx="33.6" cy="40.7" r="1.95"/>
<circle cx="28.8" cy="46.1" r="1.95"/>
<circle cx="34.6" cy="52.2" r="1.95"/>
<circle cx="69.3" cy="70.6" r="1.95"/>
<circle cx="62.3" cy="72.3" r="1.95"/>
<circle cx="55.6" cy="61.7" r="1.95"/>
<circle cx="59.4" cy="51.6" r="1.95"/>
<circle cx="60.9" cy="44.6" r="1.95"/>
<circle cx="55" cy="48" r="1.95"/>
</g>
<g fill="#66FF66">
<circle cx="97.5" cy="94.8" r="1.95"/>
<circle cx="93.7" cy="90.4" r="1.95"/>
<circle cx="89.6" cy="95.5" r="1.95"/>
<circle cx="83.5" cy="95.3" r="1.95"/>
<circle cx="95.1" cy="100.5" r="1.95"/>
<circle cx="90.4" cy="162.7" r="1.95"/>
<circle cx="87.9" cy="168.5" r="1.95"/>
<circle cx="90" cy="173.4" r="1.95"/>
<circle cx="90.1" cy="179.6" r="1.95"/>
</g>
<g fill="#FFFF00">
<circle cx="100" cy="152.5" r="1.95"/>
<circle cx="107.8" cy="162" r="1.95"/>
<circle cx="108.3" cy="156.3" r="1.95"/>
<circle cx="114" cy="161.3" r="1.95"/>
<circle cx="114.7" cy="166.3" r="1.95"/>
<circle cx="110.4" cy="169" r="1.95"/>
<circle cx="105.6" cy="167.3" r="1.95"/>
</g>
<g fill="#FF0000">
<circle cx="99.6" cy="165.5" r="1.95"/>
<circle cx="97.5" cy="171.6" r="1.95"/>
<circle cx="102.1" cy="174.7" r="1.95"/>
</g>
<g fill="#336600">
<circle cx="78.1" cy="167.3" r="1.95"/>
<circle cx="76.3" cy="175.8" r="1.95"/>
<circle cx="73" cy="182.1" r="1.95"/>
<circle cx="72.1" cy="188.1" r="1.95"/>
<circle cx="79.1" cy="181.2" r="1.95"/>
</g>
<g fill="#00FFFF">
<circle cx="31.2" cy="146.5" r="1.95"/>
<circle cx="23.4" cy="143.4" r="1.95"/>
<circle cx="21.7" cy="137.8" r="1.95"/>
<circle cx="17.3" cy="141.3" r="1.95"/>
<circle cx="18" cy="146.7" r="1.95"/>
<circle cx="27.1" cy="150.4" r="1.95"/>
</g>
<g fill="#CCFFCC">
<circle cx="124.3" cy="178.3" r="1.95"/>
<circle cx="119.4" cy="185.2" r="1.95"/>
<circle cx="116.2" cy="191" r="1.95"/>
<circle cx="113.1" cy="197" r="1.95"/>
</g>
<g fill="#CCCCFF">
<circle cx="135.2" cy="187.2" r="1.95"/>
<circle cx="131.7" cy="182.2" r="1.95"/>
<circle cx="138.1" cy="182.2" r="1.95"/>
<circle cx="142.3" cy="186.5" r="1.95"/>
<circle cx="128.6" cy="188.8" r="1.95"/>
<circle cx="131" cy="194.1" r="1.95"/>
<circle cx="137" cy="192.7" r="1.95"/>
<circle cx="142.6" cy="192.2" r="1.95"/>
<circle cx="127.5" cy="199.9" r="1.95"/>
<circle cx="137.4" cy="198.4" r="1.95"/>
<circle cx="133.6" cy="205.9" r="1.95"/>
<circle cx="139.5" cy="207" r="1.95"/>
<circle cx="144.4" cy="203.7" r="1.95"/>
</g>
<g fill="#FF0099">
<circle cx="145.9" cy="178.8" r="1.95"/>
<circle cx="156.4" cy="189.6" r="1.95"/>
<circle cx="162.5" cy="188.8" r="1.95"/>
<circle cx="156.5" cy="197.1" r="1.95"/>
<circle cx="163.1" cy="196" r="1.95"/>
</g>
<g fill="#FF9999">
<circle cx="156.9" cy="167" r="1.95"/>
<circle cx="151.8" cy="163.8" r="1.95"/>
<circle cx="157.3" cy="160.8" r="1.95"/>
<circle cx="163.9" cy="160.5" r="1.95"/>
<circle cx="163.5" cy="166.4" r="1.95"/>
<circle cx="162.1" cy="172.3" r="1.95"/>
<circle cx="155.8" cy="172.7" r="1.95"/>
</g>
</g>
<g transform="translate(375.1 0)">
<path d="M92.3 134.9L110.5 92.7M110.5 92.7L115.2 58.5M115.2 58.5L108.2 49M108.2 49L105.8 38.2M105.8 38.2L103.9 28.5M103.9 28.5L100.4 23.1M103.9 28.5L105.3 22.1M100.4 23.1L102.1 17.3M115.2 58.5L101.2 46.8M101.2 46.8L95.4 40.7M95.4 40.7L90.4 35.3M90.4 35.3L86.4 30.6M115.2 58.5L93.4 51.3M93.4 51.3L86.5 49M86.5 49L81.2 46.5M115.2 58.5L117.2 43.3M117.2 43.3L116.4 36.6M115.2 58.5L123.3 48.2M123.3 48.2L125.2 41.8M125.2 41.8L125.2 35.3M125.2 35.3L127.8 30.1M125.2 41.8L131.5 37.2M131.5 37.2L136 32.6M115.2 58.5L140.7 45.8M140.7 45.8L148.1 41.8M148.1 41.8L153.5 38.3M153.5 38.3L158.6 35.1M115.2 58.5L135 53.1M115.2 58.5L128.7 57M115.2 58.5L125 60.7M115.2 58.5L120.5 56M110.5 92.7L93.1 80.9M93.1 80.9L76.2 70.4M76.2 70.4L62.3 60.7M62.3 60.7L47.2 54.1M47.2 54.1L40.4 50.7M40.4 50.7L34.6 46.8M34.6 46.8L33.6 40.7M34.6 46.8L28.8 46.1M40.4 50.7L34.6 52.2M76.2 70.4L69.3 70.6M69.3 70.6L62.3 72.3M62.3 60.7L55.6 61.7M62.3 60.7L59.4 51.6M59.4 51.6L60.9 44.6M59.4 51.6L55 48M110.5 92.7L86 84M110.5 92.7L105.5 86M110.5 92.7L104.8 91.7M110.5 92.7L113.3 87.9M110.5 92.7L97.5 94.8M97.5 94.8L93.7 90.4M97.5 94.8L89.6 95.5M89.6 95.5L83.5 95.3M97.5 94.8L95.1 100.5M110.5 92.7L122.5 88.2M122.5 88.2L129.2 85.3M129.2 85.3L132.9 80.7M129.2 85.3L134 87.9M110.5 92.7L113.5 96.6M110.5 92.7L109.7 98.4M113.5 96.6L115.9 99.8M109.7 98.4L112 102.9M115.9 99.8L122 105.1M122 105.1L126.4 104.7M126.4 104.7L128.4 107.8M128.4 107.8L125.8 110.9M125.8 110.9L122.2 109.1M110.5 92.7L141.7 93.5M141.7 93.5L144.5 87M144.5 87L147.1 81.8M141.7 93.5L155.3 84.8M155.3 84.8L160.8 85.2M155.3 84.8L164.3 78.3M164.3 78.3L162.1 72.7M164.3 78.3L167.7 73.3M164.3 78.3L173.1 74.8M173.1 74.8L179 72M164.3 78.3L170.3 81.1M141.7 93.5L154.5 93.2M154.5 93.2L167 95.6M167 95.6L175.1 94.8M175.1 94.8L181.2 94.9M167 95.6L171.4 100.1M141.7 93.5L148.4 95.6M148.4 95.6L154.5 98.2M141.7 93.5L140 99.3M141.7 93.5L148.4 103.2M148.4 103.2L155.3 105.3M155.3 105.3L161.7 108.2M148.4 103.2L145.8 108.2M148.4 103.2L151.9 110.4M151.9 110.4L155.3 115.6M92.3 134.9L82.3 125M92.3 134.9L89.4 128M92.3 134.9L93.9 126M92.3 134.9L98.6 129.2M92.3 134.9L94.5 130.2M92.3 134.9L98.2 134.3M92.3 134.9L104.9 132.8M92.3 134.9L99.1 139.1M92.3 134.9L94.9 140.1M92.3 134.9L89.4 139.4M92.3 134.9L92.4 145.2M92.3 134.9L87.5 132.4M92.3 134.9L80.9 132.4M92.3 134.9L83.4 138M83.4 138L74.9 140.4M92.3 134.9L84.7 145.5M82.3 125L51 103.9M51 103.9L46.2 98.6M46.2 98.6L40.3 98.6M40.3 98.6L30.3 98.1M30.3 98.1L23.7 97.2M23.7 97.2L17.4 95.7M40.3 98.6L36.4 93.2M36.4 93.2L33.2 88.4M51 103.9L53.2 97.9M53.2 97.9L53.2 92.1M51 103.9L45.4 105.2M51 103.9L48.5 108.9M104.9 132.8L111.3 129M111.3 129L117.9 129.2M117.9 129.2L125 128.5M125 128.5L131 129.5M104.9 132.8L113.4 134.2M113.4 134.2L119.3 134.9M113.4 134.2L116.1 139.1M92.3 134.9L105.6 143.4M105.6 143.4L114.7 151.8M114.7 151.8L131.7 169.2M114.7 151.8L121.9 150.4M121.9 150.4L128.1 150.1M114.7 151.8L120.4 155.8M131.7 169.2L137 166.3M92.3 134.9L100 152.5M100 152.5L107.8 162M107.8 162L108.3 156.3M107.8 162L114 161.3M107.8 162L114.7 166.3M107.8 162L110.4 169M107.8 162L105.6 167.3M100 152.5L99.6 165.5M99.6 165.5L97.5 171.6M99.6 165.5L102.1 174.7M92.4 145.2L90.4 162.7M90.4 162.7L87.9 168.5M87.9 168.5L90 173.4M90 173.4L90.1 179.6M84.7 145.5L81.7 151.9M81.7 151.9L78.1 167.3M78.1 167.3L76.3 175.8M76.3 175.8L73 182.1M73 182.1L72.1 188.1M76.3 175.8L79.1 181.2M84.7 145.5L76.4 149.1M76.4 149.1L73.9 155.4M76.4 149.1L78.4 155.4M80.9 132.4L70.3 131.9M70.3 131.9L68.3 125.3M70.3 131.9L72.3 124.7M70.3 131.9L74.8 128.5M70.3 131.9L65.8 133.5M70.3 131.9L63.9 127.3M63.9 127.3L57.7 125.4M57.7 125.4L56.5 119.2M57.7 125.4L51.6 122.3M74.9 140.4L66.5 143.6M66.5 143.6L72 144.2M66.5 143.6L69.4 149M66.5 143.6L64.5 139.5M64.5 139.5L60 133.3M60 133.3L54.1 129.9M64.5 139.5L60 138.2M60 138.2L53.6 135.4M66.5 143.6L61.9 142.3M61.9 142.3L56.9 141.4M56.9 141.4L49.7 139.2M66.5 143.6L59.1 150.4M59.1 150.4L56 150.9M59.1 150.4L58.2 148.5M59.1 150.4L61.2 147.1M59.1 150.4L62 150M59.1 150.4L63.4 151.4M59.1 150.4L59.1 152.4M59.1 150.4L61 154.5M59.1 150.4L58.1 154.7M59.1 150.4L55.8 152.8M59.1 150.4L57.2 150M59.1 150.4L60.5 149.2M59.1 150.4L56.2 148.6M59.1 150.4L50.5 150M50.5 150L43.5 149M59.1 150.4L50.5 145.4M59.1 150.4L50.7 155.9M59.1 150.4L54.3 158.6M43.5 149L31.2 146.5M31.2 146.5L23.4 143.4M23.4 143.4L21.7 137.8M23.4 143.4L17.3 141.3M23.4 143.4L18 146.7M31.2 146.5L27.1 150.4M54.3 158.6L40.6 176.9M40.6 176.9L45.1 180.7M40.6 176.9L32.5 175.1M32.5 175.1L33.6 169M32.5 175.1L27.6 171.4M40.6 176.9L27.1 178.4M27.1 178.4L20.6 176.2M20.6 176.2L12.6 172M12.6 172L7.2 169.9M27.1 178.4L14.6 183.3M14.6 183.3L8.5 182.7M14.6 183.3L11.1 188.2M27.1 178.4L23.4 184M40.6 176.9L37.1 193.2M37.1 193.2L30.3 194.6M30.3 194.6L24.7 197.2M40.6 176.9L44 193.6M44 193.6L41.2 201M44 193.6L44.9 199.3M44.9 199.3L48.3 201M44.9 199.3L46.3 204.9M44.9 199.3L43 203.8M37.1 193.2L39.5 206.2M39.5 206.2L32.7 205.9M39.5 206.2L35.3 210.1M39.5 206.2L44.7 211.6M44.7 211.6L49.7 215.5M39.5 206.2L36.3 217.5M36.3 217.5L30.1 216.5M36.3 217.5L30.3 221.4M36.3 217.5L34.1 223.8M36.3 217.5L38.5 223.8M36.3 217.5L41.9 220M131.7 169.2L124.3 178.3M124.3 178.3L119.4 185.2M119.4 185.2L116.2 191M116.2 191L113.1 197M131.7 169.2L135.2 187.2M135.2 187.2L131.7 182.2M135.2 187.2L138.1 182.2M135.2 187.2L142.3 186.5M135.2 187.2L128.6 188.8M135.2 187.2L131 194.1M135.2 187.2L137 192.7M135.2 187.2L142.6 192.2M131 194.1L127.5 199.9M137 192.7L137.4 198.4M137.4 198.4L133.6 205.9M137.4 198.4L139.5 207M137.4 198.4L144.4 203.7M131.7 169.2L145.9 178.8M145.9 178.8L156.4 189.6M156.4 189.6L162.5 188.8M156.4 189.6L156.5 197.1M156.4 189.6L163.1 196M131.7 169.2L156.9 167M156.9 167L151.8 163.8M156.9 167L157.3 160.8M156.9 167L163.9 160.5M156.9 167L163.5 166.4M156.9 167L162.1 172.3M156.9 167L155.8 172.7M156.9 167L181.2 170.2M181.2 170.2L198.6 163.8M198.6 163.8L192.5 163M198.6 163.8L197.2 153.1M197.2 153.1L193.9 149.6M193.9 149.6L196.8 146.1M197.2 153.1L200.3 149.1M198.6 163.8L208.1 156M208.1 156L214.7 149.9M214.7 149.9L220.6 144.2M220.6 144.2L222.9 138.7M220.6 144.2L226.3 142.5M198.6 163.8L208.1 166.8M208.1 166.8L216.8 166.8M216.8 166.8L222.5 165.6M208.1 166.8L212.4 172.2M212.4 172.2L218 172.5M198.6 163.8L199.4 174.8M199.4 174.8L199.1 185.2M199.1 185.2L196.8 191.1M181.2 170.2L185.9 179.1M185.9 179.1L181.2 181.7M185.9 179.1L187.8 184.6M196.8 191.1L202.9 192.1M196.8 191.1L191.6 199.4M196.8 191.1L200 198.9M200 198.9L202.6 204.1M105.3 22.1L102.1 17.3M100.4 23.1L105.3 22.1M34.6 46.8L34.6 52.2M113.5 96.6L109.7 98.4M115.9 99.8L112 102.9M113.5 96.6L112 102.9M109.7 98.4L115.9 99.8M122.2 109.1L122 105.1M122 105.1L128.4 107.8M126.4 104.7L125.8 110.9M126.4 104.7L122.2 109.1M128.4 107.8L122.2 109.1M122 105.1L125.8 110.9M218 172.5L216.8 166.8M222.9 138.7L226.3 142.5M196.8 146.1L200.3 149.1M193.9 149.6L200.3 149.1M197.2 153.1L196.8 146.1M185.9 179.1L196.8 191.1M70.3 131.9L66.5 143.6M32.5 175.1L27.1 178.4M43 203.8L39.5 206.2M41.2 201L43 203.8M48.3 201L46.3 204.9M57.7 125.4L60 133.3M109.7 61L102.1 70.1M116.7 64.5L102.1 70.1" fill="none" stroke="#707070" stroke-width="1.2"/>
<g fill="#FF5500">
<circle cx="92.3" cy="134.9" r="1.95"/>
<circle cx="82.3" cy="125" r="1.95"/>
<circle cx="89.4" cy="128" r="1.95"/>
<circle cx="93.9" cy="126" r="1.95"/>
<circle cx="98.6" cy="129.2" r="1.95"/>
<circle cx="94.5" cy="130.2" r="1.95"/>
<circle cx="98.2" cy="134.3" r="1.95"/>
<circle cx="104.9" cy="132.8" r="1.95"/>
<circle cx="99.1" cy="139.1" r="1.95"/>
<circle cx="94.9" cy="140.1" r="1.95"/>
<circle cx="89.4" cy="139.4" r="1.95"/>
<circle cx="92.4" cy="145.2" r="1.95"/>
<circle cx="87.5" cy="132.4" r="1.95"/>
<circle cx="80.9" cy="132.4" r="1.95"/>
<circle cx="83.4" cy="138" r="1.95"/>
<circle cx="74.9" cy="140.4" r="1.95"/>
<circle cx="84.7" cy="145.5" r="1.95"/>
<circle cx="111.3" cy="129" r="1.95"/>
<circle cx="117.9" cy="129.2" r="1.95"/>
<circle cx="125" cy="128.5" r="1.95"/>
<circle cx="131" cy="129.5" r="1.95"/>
<circle cx="113.4" cy="134.2" r="1.95"/>
<circle cx="119.3" cy="134.9" r="1.95"/>
<circle cx="116.1" cy="139.1" r="1.95"/>
<circle cx="105.6" cy="143.4" r="1.95"/>
<circle cx="114.7" cy="151.8" r="1.95"/>
<circle cx="131.7" cy="169.2" r="1.95"/>
<circle cx="121.9" cy="150.4" r="1.95"/>
<circle cx="128.1" cy="150.1" r="1.95"/>
<circle cx="120.4" cy="155.8" r="1.95"/>
<circle cx="137" cy="166.3" r="1.95"/>
<circle cx="100" cy="152.5" r="1.95"/>
<circle cx="107.8" cy="162" r="1.95"/>
<circle cx="108.3" cy="156.3" r="1.95"/>
<circle cx="114" cy="161.3" r="1.95"/>
<circle cx="114.7" cy="166.3" r="1.95"/>
<circle cx="110.4" cy="169" r="1.95"/>
<circle cx="105.6" cy="167.3" r="1.95"/>
<circle cx="99.6" cy="165.5" r="1.95"/>
<circle cx="97.5" cy="171.6" r="1.95"/>
<circle cx="102.1" cy="174.7" r="1.95"/>
<circle cx="90.4" cy="162.7" r="1.95"/>
<circle cx="87.9" cy="168.5" r="1.95"/>
<circle cx="90" cy="173.4" r="1.95"/>
<circle cx="90.1" cy="179.6" r="1.95"/>
<circle cx="81.7" cy="151.9" r="1.95"/>
<circle cx="78.1" cy="167.3" r="1.95"/>
<circle cx="76.4" cy="149.1" r="1.95"/>
<circle cx="73.9" cy="155.4" r="1.95"/>
<circle cx="78.4" cy="155.4" r="1.95"/>
<circle cx="70.3" cy="131.9" r="1.95"/>
<circle cx="68.3" cy="125.3" r="1.95"/>
<circle cx="72.3" cy="124.7" r="1.95"/>
<circle cx="74.8" cy="128.5" r="1.95"/>
<circle cx="65.8" cy="133.5" r="1.95"/>
<circle cx="63.9" cy="127.3" r="1.95"/>
<circle cx="57.7" cy="125.4" r="1.95"/>
<circle cx="56.5" cy="119.2" r="1.95"/>
<circle cx="51.6" cy="122.3" r="1.95"/>
<circle cx="66.5" cy="143.6" r="1.95"/>
<circle cx="72" cy="144.2" r="1.95"/>
<circle cx="69.4" cy="149" r="1.95"/>
<circle cx="64.5" cy="139.5" r="1.95"/>
<circle cx="60" cy="133.3" r="1.95"/>
<circle cx="54.1" cy="129.9" r="1.95"/>
<circle cx="60" cy="138.2" r="1.95"/>
<circle cx="53.6" cy="135.4" r="1.95"/>
<circle cx="61.9" cy="142.3" r="1.95"/>
<circle cx="56.9" cy="141.4" r="1.95"/>
<circle cx="49.7" cy="139.2" r="1.95"/>
<circle cx="59.1" cy="150.4" r="1.95"/>
<circle cx="56" cy="150.9" r="1.95"/>
<circle cx="58.2" cy="148.5" r="1.95"/>
<circle cx="61.2" cy="147.1" r="1.95"/>
<circle cx="62" cy="150" r="1.95"/>
<circle cx="63.4" cy="151.4" r="1.95"/>
<circle cx="59.1" cy="152.4" r="1.95"/>
<circle cx="61" cy="154.5" r="1.95"/>
<circle cx="58.1" cy="154.7" r="1.95"/>
<circle cx="55.8" cy="152.8" r="1.95"/>
<circle cx="57.2" cy="150" r="1.95"/>
<circle cx="60.5" cy="149.2" r="1.95"/>
<circle cx="56.2" cy="148.6" r="1.95"/>
<circle cx="50.5" cy="150" r="1.95"/>
<circle cx="43.5" cy="149" r="1.95"/>
<circle cx="50.5" cy="145.4" r="1.95"/>
<circle cx="50.7" cy="155.9" r="1.95"/>
<circle cx="54.3" cy="158.6" r="1.95"/>
<circle cx="31.2" cy="146.5" r="1.95"/>
<circle cx="23.4" cy="143.4" r="1.95"/>
<circle cx="21.7" cy="137.8" r="1.95"/>
<circle cx="17.3" cy="141.3" r="1.95"/>
<circle cx="18" cy="146.7" r="1.95"/>
<circle cx="27.1" cy="150.4" r="1.95"/>
<circle cx="124.3" cy="178.3" r="1.95"/>
<circle cx="119.4" cy="185.2" r="1.95"/>
<circle cx="116.2" cy="191" r="1.95"/>
<circle cx="113.1" cy="197" r="1.95"/>
<circle cx="135.2" cy="187.2" r="1.95"/>
<circle cx="131.7" cy="182.2" r="1.95"/>
<circle cx="138.1" cy="182.2" r="1.95"/>
<circle cx="142.3" cy="186.5" r="1.95"/>
<circle cx="128.6" cy="188.8" r="1.95"/>
<circle cx="131" cy="194.1" r="1.95"/>
<circle cx="137" cy="192.7" r="1.95"/>
<circle cx="142.6" cy="192.2" r="1.95"/>
<circle cx="127.5" cy="199.9" r="1.95"/>
<circle cx="137.4" cy="198.4" r="1.95"/>
<circle cx="133.6" cy="205.9" r="1.95"/>
<circle cx="139.5" cy="207" r="1.95"/>
<circle cx="144.4" cy="203.7" r="1.95"/>
<circle cx="145.9" cy="178.8" r="1.95"/>
<circle cx="156.4" cy="189.6" r="1.95"/>
<circle cx="162.5" cy="188.8" r="1.95"/>
<circle cx="156.5" cy="197.1" r="1.95"/>
<circle cx="163.1" cy="196" r="1.95"/>
<circle cx="156.9" cy="167" r="1.95"/>
<circle cx="151.8" cy="163.8" r="1.95"/>
<circle cx="157.3" cy="160.8" r="1.95"/>
<circle cx="163.9" cy="160.5" r="1.95"/>
<circle cx="163.5" cy="166.4" r="1.95"/>
<circle cx="162.1" cy="172.3" r="1.95"/>
<circle cx="155.8" cy="172.7" r="1.95"/>
</g>
<g fill="#FFE100">
<circle cx="110.5" cy="92.7" r="1.95"/>
<circle cx="93.1" cy="80.9" r="1.95"/>
<circle cx="86" cy="84" r="1.95"/>
<circle cx="105.5" cy="86" r="1.95"/>
<circle cx="104.8" cy="91.7" r="1.95"/>
<circle cx="113.3" cy="87.9" r="1.95"/>
<circle cx="122.5" cy="88.2" r="1.95"/>
<circle cx="129.2" cy="85.3" r="1.95"/>
<circle cx="132.9" cy="80.7" r="1.95"/>
<circle cx="134" cy="87.9" r="1.95"/>
<circle cx="113.5" cy="96.6" r="1.95"/>
<circle cx="109.7" cy="98.4" r="1.95"/>
<circle cx="115.9" cy="99.8" r="1.95"/>
<circle cx="112" cy="102.9" r="1.95"/>
<circle cx="122" cy="105.1" r="1.95"/>
<circle cx="126.4" cy="104.7" r="1.95"/>
<circle cx="128.4" cy="107.8" r="1.95"/>
<circle cx="125.8" cy="110.9" r="1.95"/>
<circle cx="122.2" cy="109.1" r="1.95"/>
<circle cx="141.7" cy="93.5" r="1.95"/>
<circle cx="144.5" cy="87" r="1.95"/>
<circle cx="147.1" cy="81.8" r="1.95"/>
<circle cx="155.3" cy="84.8" r="1.95"/>
<circle cx="160.8" cy="85.2" r="1.95"/>
<circle cx="164.3" cy="78.3" r="1.95"/>
<circle cx="162.1" cy="72.7" r="1.95"/>
<circle cx="167.7" cy="73.3" r="1.95"/>
<circle cx="173.1" cy="74.8" r="1.95"/>
<circle cx="179" cy="72" r="1.95"/>
<circle cx="170.3" cy="81.1" r="1.95"/>
<circle cx="154.5" cy="93.2" r="1.95"/>
<circle cx="167" cy="95.6" r="1.95"/>
<circle cx="175.1" cy="94.8" r="1.95"/>
<circle cx="181.2" cy="94.9" r="1.95"/>
<circle cx="171.4" cy="100.1" r="1.95"/>
<circle cx="148.4" cy="95.6" r="1.95"/>
<circle cx="154.5" cy="98.2" r="1.95"/>
<circle cx="140" cy="99.3" r="1.95"/>
<circle cx="148.4" cy="103.2" r="1.95"/>
<circle cx="155.3" cy="105.3" r="1.95"/>
<circle cx="161.7" cy="108.2" r="1.95"/>
<circle cx="145.8" cy="108.2" r="1.95"/>
<circle cx="151.9" cy="110.4" r="1.95"/>
<circle cx="155.3" cy="115.6" r="1.95"/>
</g>
<g fill="#33FFFF">
<circle cx="115.2" cy="58.5" r="5.3"/>
<circle cx="120.1" cy="59.5" r="1.95"/>
<circle cx="118.8" cy="62" r="1.95"/>
<circle cx="116.3" cy="63.4" r="1.95"/>
<circle cx="113.5" cy="63.2" r="1.95"/>
<circle cx="111.2" cy="61.6" r="1.95"/>
<circle cx="110.2" cy="58.9" r="1.95"/>
<circle cx="110.8" cy="56.2" r="1.95"/>
<circle cx="112.7" cy="54.1" r="1.95"/>
<circle cx="115.5" cy="53.5" r="1.95"/>
<circle cx="118.1" cy="54.5" r="1.95"/>
<circle cx="119.9" cy="56.7" r="1.95"/>
<circle cx="108.2" cy="49" r="1.95"/>
<circle cx="101.2" cy="46.8" r="1.95"/>
<circle cx="95.4" cy="40.7" r="1.95"/>
<circle cx="90.4" cy="35.3" r="1.95"/>
<circle cx="86.4" cy="30.6" r="1.95"/>
<circle cx="93.4" cy="51.3" r="1.95"/>
<circle cx="86.5" cy="49" r="1.95"/>
<circle cx="81.2" cy="46.5" r="1.95"/>
<circle cx="117.2" cy="43.3" r="1.95"/>
<circle cx="116.4" cy="36.6" r="1.95"/>
<circle cx="123.3" cy="48.2" r="1.95"/>
<circle cx="125.2" cy="41.8" r="1.95"/>
<circle cx="125.2" cy="35.3" r="1.95"/>
<circle cx="127.8" cy="30.1" r="1.95"/>
<circle cx="131.5" cy="37.2" r="1.95"/>
<circle cx="136" cy="32.6" r="1.95"/>
<circle cx="140.7" cy="45.8" r="1.95"/>
<circle cx="148.1" cy="41.8" r="1.95"/>
<circle cx="153.5" cy="38.3" r="1.95"/>
<circle cx="158.6" cy="35.1" r="1.95"/>
<circle cx="135" cy="53.1" r="1.95"/>
<circle cx="128.7" cy="57" r="1.95"/>
<circle cx="125" cy="60.7" r="1.95"/>
<circle cx="102.1" cy="70.1" r="1.95"/>
<circle cx="120.5" cy="56" r="1.95"/>
</g>
<g fill="#FF0033">
<circle cx="105.8" cy="38.2" r="1.95"/>
<circle cx="103.9" cy="28.5" r="1.95"/>
<circle cx="100.4" cy="23.1" r="1.95"/>
<circle cx="105.3" cy="22.1" r="1.95"/>
<circle cx="102.1" cy="17.3" r="1.95"/>
</g>
<g fill="#33FF99">
<circle cx="76.2" cy="70.4" r="1.95"/>
<circle cx="62.3" cy="60.7" r="1.95"/>
<circle cx="47.2" cy="54.1" r="1.95"/>
<circle cx="40.4" cy="50.7" r="1.95"/>
<circle cx="34.6" cy="46.8" r="1.95"/>
<circle cx="33.6" cy="40.7" r="1.95"/>
<circle cx="28.8" cy="46.1" r="1.95"/>
<circle cx="34.6" cy="52.2" r="1.95"/>
<circle cx="69.3" cy="70.6" r="1.95"/>
<circle cx="62.3" cy="72.3" r="1.95"/>
<circle cx="55.6" cy="61.7" r="1.95"/>
<circle cx="59.4" cy="51.6" r="1.95"/>
<circle cx="60.9" cy="44.6" r="1.95"/>
<circle cx="55" cy="48" r="1.95"/>
</g>
<g fill="#FF00FF">
<circle cx="97.5" cy="94.8" r="1.95"/>
<circle cx="93.7" cy="90.4" r="1.95"/>
<circle cx="89.6" cy="95.5" r="1.95"/>
<circle cx="83.5" cy="95.3" r="1.95"/>
<circle cx="95.1" cy="100.5" r="1.95"/>
</g>
<g fill="#0000FF">
<circle cx="51" cy="103.9" r="1.95"/>
<circle cx="46.2" cy="98.6" r="1.95"/>
<circle cx="40.3" cy="98.6" r="1.95"/>
<circle cx="30.3" cy="98.1" r="1.95"/>
<circle cx="23.7" cy="97.2" r="1.95"/>
<circle cx="17.4" cy="95.7" r="1.95"/>
<circle cx="36.4" cy="93.2" r="1.95"/>
<circle cx="33.2" cy="88.4" r="1.95"/>
<circle cx="53.2" cy="97.9" r="1.95"/>
<circle cx="53.2" cy="92.1" r="1.95"/>
<circle cx="45.4" cy="105.2" r="1.95"/>
<circle cx="48.5" cy="108.9" r="1.95"/>
</g>
<g fill="#6600FF">
<circle cx="76.3" cy="175.8" r="1.95"/>
<circle cx="73" cy="182.1" r="1.95"/>
<circle cx="72.1" cy="188.1" r="1.95"/>
<circle cx="79.1" cy="181.2" r="1.95"/>
</g>
<g fill="#00AAFF">
<circle cx="40.6" cy="176.9" r="1.95"/>
<circle cx="45.1" cy="180.7" r="1.95"/>
<circle cx="32.5" cy="175.1" r="1.95"/>
<circle cx="33.6" cy="169" r="1.95"/>
<circle cx="27.6" cy="171.4" r="1.95"/>
<circle cx="27.1" cy="178.4" r="1.95"/>
<circle cx="20.6" cy="176.2" r="1.95"/>
<circle cx="12.6" cy="172" r="1.95"/>
<circle cx="7.2" cy="169.9" r="1.95"/>
<circle cx="14.6" cy="183.3" r="1.95"/>
<circle cx="8.5" cy="182.7" r="1.95"/>
<circle cx="11.1" cy="188.2" r="1.95"/>
<circle cx="23.4" cy="184" r="1.95"/>
<circle cx="37.1" cy="193.2" r="1.95"/>
<circle cx="30.3" cy="194.6" r="1.95"/>
<circle cx="24.7" cy="197.2" r="1.95"/>
<circle cx="44" cy="193.6" r="1.95"/>
<circle cx="41.2" cy="201" r="1.95"/>
<circle cx="44.9" cy="199.3" r="1.95"/>
<circle cx="48.3" cy="201" r="1.95"/>
<circle cx="46.3" cy="204.9" r="1.95"/>
<circle cx="43" cy="203.8" r="1.95"/>
<circle cx="39.5" cy="206.2" r="1.95"/>
<circle cx="32.7" cy="205.9" r="1.95"/>
<circle cx="35.3" cy="210.1" r="1.95"/>
<circle cx="44.7" cy="211.6" r="1.95"/>
<circle cx="49.7" cy="215.5" r="1.95"/>
<circle cx="36.3" cy="217.5" r="1.95"/>
<circle cx="30.1" cy="216.5" r="1.95"/>
<circle cx="30.3" cy="221.4" r="1.95"/>
<circle cx="34.1" cy="223.8" r="1.95"/>
<circle cx="38.5" cy="223.8" r="1.95"/>
<circle cx="41.9" cy="220" r="1.95"/>
</g>
<g fill="#00FF33">
<circle cx="181.2" cy="170.2" r="1.95"/>
<circle cx="198.6" cy="163.8" r="1.95"/>
<circle cx="192.5" cy="163" r="1.95"/>
<circle cx="197.2" cy="153.1" r="1.95"/>
<circle cx="193.9" cy="149.6" r="1.95"/>
<circle cx="196.8" cy="146.1" r="1.95"/>
<circle cx="200.3" cy="149.1" r="1.95"/>
<circle cx="208.1" cy="156" r="1.95"/>
<circle cx="214.7" cy="149.9" r="1.95"/>
<circle cx="220.6" cy="144.2" r="1.95"/>
<circle cx="222.9" cy="138.7" r="1.95"/>
<circle cx="226.3" cy="142.5" r="1.95"/>
<circle cx="208.1" cy="166.8" r="1.95"/>
<circle cx="216.8" cy="166.8" r="1.95"/>
<circle cx="222.5" cy="165.6" r="1.95"/>
<circle cx="212.4" cy="172.2" r="1.95"/>
<circle cx="218" cy="172.5" r="1.95"/>
<circle cx="199.4" cy="174.8" r="1.95"/>
<circle cx="199.1" cy="185.2" r="1.95"/>
<circle cx="196.8" cy="191.1" r="1.95"/>
<circle cx="185.9" cy="179.1" r="1.95"/>
<circle cx="181.2" cy="181.7" r="1.95"/>
<circle cx="187.8" cy="184.6" r="1.95"/>
<circle cx="202.9" cy="192.1" r="1.95"/>
<circle cx="191.6" cy="199.4" r="1.95"/>
<circle cx="200" cy="198.9" r="1.95"/>
<circle cx="202.6" cy="204.1" r="1.95"/>
</g>
</g>
<g transform="translate(372.87 230.11) scale(1.002 1.005)">
<path d="M92.3 134.9L110.5 92.7M110.5 92.7L115.2 58.5M115.2 58.5L108.2 49M108.2 49L105.8 38.2M105.8 38.2L103.9 28.5M103.9 28.5L100.4 23.1M103.9 28.5L105.3 22.1M100.4 23.1L102.1 17.3M115.2 58.5L101.2 46.8M101.2 46.8L95.4 40.7M95.4 40.7L90.4 35.3M90.4 35.3L86.4 30.6M115.2 58.5L93.4 51.3M93.4 51.3L86.5 49M86.5 49L81.2 46.5M115.2 58.5L117.2 43.3M117.2 43.3L116.4 36.6M115.2 58.5L123.3 48.2M123.3 48.2L125.2 41.8M125.2 41.8L125.2 35.3M125.2 35.3L127.8 30.1M125.2 41.8L131.5 37.2M131.5 37.2L136 32.6M115.2 58.5L140.7 45.8M140.7 45.8L148.1 41.8M148.1 41.8L153.5 38.3M153.5 38.3L158.6 35.1M115.2 58.5L135 53.1M115.2 58.5L128.7 57M115.2 58.5L125 60.7M115.2 58.5L120.5 56M110.5 92.7L93.1 80.9M93.1 80.9L76.2 70.4M76.2 70.4L62.3 60.7M62.3 60.7L47.2 54.1M47.2 54.1L40.4 50.7M40.4 50.7L34.6 46.8M34.6 46.8L33.6 40.7M34.6 46.8L28.8 46.1M40.4 50.7L34.6 52.2M76.2 70.4L69.3 70.6M69.3 70.6L62.3 72.3M62.3 60.7L55.6 61.7M62.3 60.7L59.4 51.6M59.4 51.6L60.9 44.6M59.4 51.6L55 48M110.5 92.7L86 84M110.5 92.7L105.5 86M110.5 92.7L104.8 91.7M110.5 92.7L113.3 87.9M110.5 92.7L97.5 94.8M97.5 94.8L93.7 90.4M97.5 94.8L89.6 95.5M89.6 95.5L83.5 95.3M97.5 94.8L95.1 100.5M110.5 92.7L122.5 88.2M122.5 88.2L129.2 85.3M129.2 85.3L132.9 80.7M129.2 85.3L134 87.9M110.5 92.7L113.5 96.6M110.5 92.7L109.7 98.4M113.5 96.6L115.9 99.8M109.7 98.4L112 102.9M115.9 99.8L122 105.1M122 105.1L126.4 104.7M126.4 104.7L128.4 107.8M128.4 107.8L125.8 110.9M125.8 110.9L122.2 109.1M110.5 92.7L141.7 93.5M141.7 93.5L144.5 87M144.5 87L147.1 81.8M141.7 93.5L155.3 84.8M155.3 84.8L160.8 85.2M155.3 84.8L164.3 78.3M164.3 78.3L162.1 72.7M164.3 78.3L167.7 73.3M164.3 78.3L173.1 74.8M173.1 74.8L179 72M164.3 78.3L170.3 81.1M141.7 93.5L154.5 93.2M154.5 93.2L167 95.6M167 95.6L175.1 94.8M175.1 94.8L181.2 94.9M167 95.6L171.4 100.1M141.7 93.5L148.4 95.6M148.4 95.6L154.5 98.2M141.7 93.5L140 99.3M141.7 93.5L148.4 103.2M148.4 103.2L155.3 105.3M155.3 105.3L161.7 108.2M148.4 103.2L145.8 108.2M148.4 103.2L151.9 110.4M151.9 110.4L155.3 115.6M92.3 134.9L82.3 125M92.3 134.9L89.4 128M92.3 134.9L93.9 126M92.3 134.9L98.6 129.2M92.3 134.9L94.5 130.2M92.3 134.9L98.2 134.3M92.3 134.9L104.9 132.8M92.3 134.9L99.1 139.1M92.3 134.9L94.9 140.1M92.3 134.9L89.4 139.4M92.3 134.9L92.4 145.2M92.3 134.9L87.5 132.4M92.3 134.9L80.9 132.4M92.3 134.9L83.4 138M83.4 138L74.9 140.4M92.3 134.9L84.7 145.5M82.3 125L51 103.9M51 103.9L46.2 98.6M46.2 98.6L40.3 98.6M40.3 98.6L30.3 98.1M30.3 98.1L23.7 97.2M23.7 97.2L17.4 95.7M40.3 98.6L36.4 93.2M36.4 93.2L33.2 88.4M51 103.9L53.2 97.9M53.2 97.9L53.2 92.1M51 103.9L45.4 105.2M51 103.9L48.5 108.9M104.9 132.8L111.3 129M111.3 129L117.9 129.2M117.9 129.2L125 128.5M125 128.5L131 129.5M104.9 132.8L113.4 134.2M113.4 134.2L119.3 134.9M113.4 134.2L116.1 139.1M92.3 134.9L105.6 143.4M105.6 143.4L114.7 151.8M114.7 151.8L131.7 169.2M114.7 151.8L121.9 150.4M121.9 150.4L128.1 150.1M114.7 151.8L120.4 155.8M131.7 169.2L137 166.3M92.3 134.9L100 152.5M100 152.5L107.8 162M107.8 162L108.3 156.3M107.8 162L114 161.3M107.8 162L114.7 166.3M107.8 162L110.4 169M107.8 162L105.6 167.3M100 152.5L99.6 165.5M99.6 165.5L97.5 171.6M99.6 165.5L102.1 174.7M92.4 145.2L90.4 162.7M90.4 162.7L87.9 168.5M87.9 168.5L90 173.4M90 173.4L90.1 179.6M84.7 145.5L81.7 151.9M81.7 151.9L78.1 167.3M78.1 167.3L76.3 175.8M76.3 175.8L73 182.1M73 182.1L72.1 188.1M76.3 175.8L79.1 181.2M84.7 145.5L76.4 149.1M76.4 149.1L73.9 155.4M76.4 149.1L78.4 155.4M80.9 132.4L70.3 131.9M70.3 131.9L68.3 125.3M70.3 131.9L72.3 124.7M70.3 131.9L74.8 128.5M70.3 131.9L65.8 133.5M70.3 131.9L63.9 127.3M63.9 127.3L57.7 125.4M57.7 125.4L56.5 119.2M57.7 125.4L51.6 122.3M74.9 140.4L66.5 143.6M66.5 143.6L72 144.2M66.5 143.6L69.4 149M66.5 143.6L64.5 139.5M64.5 139.5L60 133.3M60 133.3L54.1 129.9M64.5 139.5L60 138.2M60 138.2L53.6 135.4M66.5 143.6L61.9 142.3M61.9 142.3L56.9 141.4M56.9 141.4L49.7 139.2M66.5 143.6L59.1 150.4M59.1 150.4L56 150.9M59.1 150.4L58.2 148.5M59.1 150.4L61.2 147.1M59.1 150.4L62 150M59.1 150.4L63.4 151.4M59.1 150.4L59.1 152.4M59.1 150.4L61 154.5M59.1 150.4L58.1 154.7M59.1 150.4L55.8 152.8M59.1 150.4L57.2 150M59.1 150.4L60.5 149.2M59.1 150.4L56.2 148.6M59.1 150.4L50.5 150M50.5 150L43.5 149M59.1 150.4L50.5 145.4M59.1 150.4L50.7 155.9M59.1 150.4L54.3 158.6M43.5 149L31.2 146.5M31.2 146.5L23.4 143.4M23.4 143.4L21.7 137.8M23.4 143.4L17.3 141.3M23.4 143.4L18 146.7M31.2 146.5L27.1 150.4M54.3 158.6L40.6 176.9M40.6 176.9L45.1 180.7M40.6 176.9L32.5 175.1M32.5 175.1L33.6 169M32.5 175.1L27.6 171.4M40.6 176.9L27.1 178.4M27.1 178.4L20.6 176.2M20.6 176.2L12.6 172M12.6 172L7.2 169.9M27.1 178.4L14.6 183.3M14.6 183.3L8.5 182.7M14.6 183.3L11.1 188.2M27.1 178.4L23.4 184M40.6 176.9L37.1 193.2M37.1 193.2L30.3 194.6M30.3 194.6L24.7 197.2M40.6 176.9L44 193.6M44 193.6L41.2 201M44 193.6L44.9 199.3M44.9 199.3L48.3 201M44.9 199.3L46.3 204.9M44.9 199.3L43 203.8M37.1 193.2L39.5 206.2M39.5 206.2L32.7 205.9M39.5 206.2L35.3 210.1M39.5 206.2L44.7 211.6M44.7 211.6L49.7 215.5M39.5 206.2L36.3 217.5M36.3 217.5L30.1 216.5M36.3 217.5L30.3 221.4M36.3 217.5L34.1 223.8M36.3 217.5L38.5 223.8M36.3 217.5L41.9 220M131.7 169.2L124.3 178.3M124.3 178.3L119.4 185.2M119.4 185.2L116.2 191M116.2 191L113.1 197M131.7 169.2L135.2 187.2M135.2 187.2L131.7 182.2M135.2 187.2L138.1 182.2M135.2 187.2L142.3 186.5M135.2 187.2L128.6 188.8M135.2 187.2L131 194.1M135.2 187.2L137 192.7M135.2 187.2L142.6 192.2M131 194.1L127.5 199.9M137 192.7L137.4 198.4M137.4 198.4L133.6 205.9M137.4 198.4L139.5 207M137.4 198.4L144.4 203.7M131.7 169.2L145.9 178.8M145.9 178.8L156.4 189.6M156.4 189.6L162.5 188.8M156.4 189.6L156.5 197.1M156.4 189.6L163.1 196M131.7 169.2L156.9 167M156.9 167L151.8 163.8M156.9 167L157.3 160.8M156.9 167L163.9 160.5M156.9 167L163.5 166.4M156.9 167L162.1 172.3M156.9 167L155.8 172.7M156.9 167L181.2 170.2M181.2 170.2L198.6 163.8M198.6 163.8L192.5 163M198.6 163.8L197.2 153.1M197.2 153.1L193.9 149.6M193.9 149.6L196.8 146.1M197.2 153.1L200.3 149.1M198.6 163.8L208.1 156M208.1 156L214.7 149.9M214.7 149.9L220.6 144.2M220.6 144.2L222.9 138.7M220.6 144.2L226.3 142.5M198.6 163.8L208.1 166.8M208.1 166.8L216.8 166.8M216.8 166.8L222.5 165.6M208.1 166.8L212.4 172.2M212.4 172.2L218 172.5M198.6 163.8L199.4 174.8M199.4 174.8L199.1 185.2M199.1 185.2L196.8 191.1M181.2 170.2L185.9 179.1M185.9 179.1L181.2 181.7M185.9 179.1L187.8 184.6M196.8 191.1L202.9 192.1M196.8 191.1L191.6 199.4M196.8 191.1L200 198.9M200 198.9L202.6 204.1M105.3 22.1L102.1 17.3M100.4 23.1L105.3 22.1M34.6 46.8L34.6 52.2M113.5 96.6L109.7 98.4M115.9 99.8L112 102.9M113.5 96.6L112 102.9M109.7 98.4L115.9 99.8M122.2 109.1L122 105.1M122 105.1L128.4 107.8M126.4 104.7L125.8 110.9M126.4 104.7L122.2 109.1M128.4 107.8L122.2 109.1M122 105.1L125.8 110.9M218 172.5L216.8 166.8M222.9 138.7L226.3 142.5M196.8 146.1L200.3 149.1M193.9 149.6L200.3 149.1M197.2 153.1L196.8 146.1M185.9 179.1L196.8 191.1M70.3 131.9L66.5 143.6M32.5 175.1L27.1 178.4M43 203.8L39.5 206.2M41.2 201L43 203.8M48.3 201L46.3 204.9M57.7 125.4L60 133.3M109.7 61L102.1 70.1M116.7 64.5L102.1 70.1" fill="none" stroke="#707070" stroke-width="1.2"/>
<g fill="#FF3300">
<circle cx="92.3" cy="134.9" r="1.95"/>
<circle cx="82.3" cy="125" r="1.95"/>
<circle cx="89.4" cy="128" r="1.95"/>
<circle cx="93.9" cy="126" r="1.95"/>
<circle cx="98.6" cy="129.2" r="1.95"/>
<circle cx="94.5" cy="130.2" r="1.95"/>
<circle cx="98.2" cy="134.3" r="1.95"/>
<circle cx="99.1" cy="139.1" r="1.95"/>
<circle cx="94.9" cy="140.1" r="1.95"/>
<circle cx="89.4" cy="139.4" r="1.95"/>
<circle cx="92.4" cy="145.2" r="1.95"/>
<circle cx="87.5" cy="132.4" r="1.95"/>
<circle cx="80.9" cy="132.4" r="1.95"/>
<circle cx="83.4" cy="138" r="1.95"/>
<circle cx="74.9" cy="140.4" r="1.95"/>
<circle cx="84.7" cy="145.5" r="1.95"/>
<circle cx="105.6" cy="143.4" r="1.95"/>
<circle cx="114.7" cy="151.8" r="1.95"/>
<circle cx="131.7" cy="169.2" r="1.95"/>
<circle cx="121.9" cy="150.4" r="1.95"/>
<circle cx="128.1" cy="150.1" r="1.95"/>
<circle cx="120.4" cy="155.8" r="1.95"/>
<circle cx="137" cy="166.3" r="1.95"/>
<circle cx="81.7" cy="151.9" r="1.95"/>
<circle cx="76.4" cy="149.1" r="1.95"/>
<circle cx="73.9" cy="155.4" r="1.95"/>
<circle cx="78.4" cy="155.4" r="1.95"/>
<circle cx="70.3" cy="131.9" r="1.95"/>
<circle cx="68.3" cy="125.3" r="1.95"/>
<circle cx="72.3" cy="124.7" r="1.95"/>
<circle cx="74.8" cy="128.5" r="1.95"/>
<circle cx="65.8" cy="133.5" r="1.95"/>
<circle cx="63.9" cy="127.3" r="1.95"/>
<circle cx="66.5" cy="143.6" r="1.95"/>
<circle cx="72" cy="144.2" r="1.95"/>
<circle cx="69.4" cy="149" r="1.95"/>
<circle cx="64.5" cy="139.5" r="1.95"/>
<circle cx="60" cy="138.2" r="1.95"/>
<circle cx="53.6" cy="135.4" r="1.95"/>
<circle cx="61.9" cy="142.3" r="1.95"/>
<circle cx="56.9" cy="141.4" r="1.95"/>
<circle cx="49.7" cy="139.2" r="1.95"/>
<circle cx="59.1" cy="150.4" r="1.95"/>
<circle cx="56" cy="150.9" r="1.95"/>
<circle cx="58.2" cy="148.5" r="1.95"/>
<circle cx="61.2" cy="147.1" r="1.95"/>
<circle cx="62" cy="150" r="1.95"/>
<circle cx="63.4" cy="151.4" r="1.95"/>
<circle cx="58.1" cy="154.7" r="1.95"/>
<circle cx="55.8" cy="152.8" r="1.95"/>
<circle cx="57.2" cy="150" r="1.95"/>
<circle cx="60.5" cy="149.2" r="1.95"/>
<circle cx="56.2" cy="148.6" r="1.95"/>
<circle cx="50.5" cy="150" r="1.95"/>
<circle cx="43.5" cy="149" r="1.95"/>
<circle cx="50.5" cy="145.4" r="1.95"/>
<circle cx="50.7" cy="155.9" r="1.95"/>
<circle cx="54.3" cy="158.6" r="1.95"/>
</g>
<g fill="#FF6600">
<circle cx="110.5" cy="92.7" r="1.95"/>
<circle cx="93.1" cy="80.9" r="1.95"/>
<circle cx="86" cy="84" r="1.95"/>
<circle cx="105.5" cy="86" r="1.95"/>
<circle cx="104.8" cy="91.7" r="1.95"/>
<circle cx="113.3" cy="87.9" r="1.95"/>
<circle cx="113.5" cy="96.6" r="1.95"/>
<circle cx="109.7" cy="98.4" r="1.95"/>
<circle cx="115.9" cy="99.8" r="1.95"/>
<circle cx="112" cy="102.9" r="1.95"/>
<circle cx="59.1" cy="152.4" r="1.95"/>
<circle cx="61" cy="154.5" r="1.95"/>
</g>
<g fill="#FF0000">
<circle cx="115.2" cy="58.5" r="5.3"/>
<circle cx="120.1" cy="59.5" r="1.95"/>
<circle cx="118.8" cy="62" r="1.95"/>
<circle cx="116.3" cy="63.4" r="1.95"/>
<circle cx="113.5" cy="63.2" r="1.95"/>
<circle cx="111.2" cy="61.6" r="1.95"/>
<circle cx="110.2" cy="58.9" r="1.95"/>
<circle cx="110.8" cy="56.2" r="1.95"/>
<circle cx="112.7" cy="54.1" r="1.95"/>
<circle cx="115.5" cy="53.5" r="1.95"/>
<circle cx="118.1" cy="54.5" r="1.95"/>
<circle cx="119.9" cy="56.7" r="1.95"/>
<circle cx="108.2" cy="49" r="1.95"/>
<circle cx="105.8" cy="38.2" r="1.95"/>
<circle cx="117.2" cy="43.3" r="1.95"/>
<circle cx="116.4" cy="36.6" r="1.95"/>
<circle cx="123.3" cy="48.2" r="1.95"/>
<circle cx="135" cy="53.1" r="1.95"/>
<circle cx="128.7" cy="57" r="1.95"/>
<circle cx="125" cy="60.7" r="1.95"/>
<circle cx="102.1" cy="70.1" r="1.95"/>
<circle cx="120.5" cy="56" r="1.95"/>
</g>
<g fill="#0099FF">
<circle cx="103.9" cy="28.5" r="1.95"/>
<circle cx="100.4" cy="23.1" r="1.95"/>
<circle cx="105.3" cy="22.1" r="1.95"/>
<circle cx="102.1" cy="17.3" r="1.95"/>
</g>
<g fill="#FF00CC">
<circle cx="101.2" cy="46.8" r="1.95"/>
<circle cx="95.4" cy="40.7" r="1.95"/>
<circle cx="90.4" cy="35.3" r="1.95"/>
<circle cx="86.4" cy="30.6" r="1.95"/>
<circle cx="93.4" cy="51.3" r="1.95"/>
<circle cx="86.5" cy="49" r="1.95"/>
<circle cx="81.2" cy="46.5" r="1.95"/>
<circle cx="59.4" cy="51.6" r="1.95"/>
<circle cx="60.9" cy="44.6" r="1.95"/>
<circle cx="55" cy="48" r="1.95"/>
</g>
<g fill="#0033FF">
<circle cx="125.2" cy="41.8" r="1.95"/>
<circle cx="125.2" cy="35.3" r="1.95"/>
<circle cx="127.8" cy="30.1" r="1.95"/>
<circle cx="131.5" cy="37.2" r="1.95"/>
<circle cx="136" cy="32.6" r="1.95"/>
</g>
<g fill="#9900FF">
<circle cx="140.7" cy="45.8" r="1.95"/>
<circle cx="148.1" cy="41.8" r="1.95"/>
<circle cx="153.5" cy="38.3" r="1.95"/>
<circle cx="158.6" cy="35.1" r="1.95"/>
<circle cx="124.3" cy="178.3" r="1.95"/>
<circle cx="119.4" cy="185.2" r="1.95"/>
<circle cx="116.2" cy="191" r="1.95"/>
<circle cx="113.1" cy="197" r="1.95"/>
</g>
<g fill="#00FF66">
<circle cx="76.2" cy="70.4" r="1.95"/>
<circle cx="62.3" cy="60.7" r="1.95"/>
<circle cx="47.2" cy="54.1" r="1.95"/>
<circle cx="40.4" cy="50.7" r="1.95"/>
<circle cx="34.6" cy="46.8" r="1.95"/>
<circle cx="33.6" cy="40.7" r="1.95"/>
<circle cx="28.8" cy="46.1" r="1.95"/>
<circle cx="34.6" cy="52.2" r="1.95"/>
<circle cx="69.3" cy="70.6" r="1.95"/>
<circle cx="62.3" cy="72.3" r="1.95"/>
<circle cx="55.6" cy="61.7" r="1.95"/>
</g>
<g fill="#3300FF">
<circle cx="97.5" cy="94.8" r="1.95"/>
<circle cx="93.7" cy="90.4" r="1.95"/>
<circle cx="89.6" cy="95.5" r="1.95"/>
<circle cx="83.5" cy="95.3" r="1.95"/>
<circle cx="95.1" cy="100.5" r="1.95"/>
<circle cx="145.9" cy="178.8" r="1.95"/>
<circle cx="156.4" cy="189.6" r="1.95"/>
<circle cx="162.5" cy="188.8" r="1.95"/>
<circle cx="156.5" cy="197.1" r="1.95"/>
<circle cx="163.1" cy="196" r="1.95"/>
</g>
<g fill="#8800FF">
<circle cx="122.5" cy="88.2" r="1.95"/>
<circle cx="129.2" cy="85.3" r="1.95"/>
<circle cx="132.9" cy="80.7" r="1.95"/>
<circle cx="134" cy="87.9" r="1.95"/>
</g>
<g fill="#66FF00">
<circle cx="122" cy="105.1" r="1.95"/>
<circle cx="126.4" cy="104.7" r="1.95"/>
<circle cx="128.4" cy="107.8" r="1.95"/>
<circle cx="125.8" cy="110.9" r="1.95"/>
<circle cx="122.2" cy="109.1" r="1.95"/>
<circle cx="181.2" cy="170.2" r="1.95"/>
<circle cx="197.2" cy="153.1" r="1.95"/>
<circle cx="193.9" cy="149.6" r="1.95"/>
<circle cx="196.8" cy="146.1" r="1.95"/>
<circle cx="200.3" cy="149.1" r="1.95"/>
<circle cx="199.1" cy="185.2" r="1.95"/>
<circle cx="196.8" cy="191.1" r="1.95"/>
<circle cx="185.9" cy="179.1" r="1.95"/>
<circle cx="181.2" cy="181.7" r="1.95"/>
<circle cx="187.8" cy="184.6" r="1.95"/>
<circle cx="202.9" cy="192.1" r="1.95"/>
<circle cx="191.6" cy="199.4" r="1.95"/>
<circle cx="200" cy="198.9" r="1.95"/>
<circle cx="202.6" cy="204.1" r="1.95"/>
</g>
<g fill="#FFAA00">
<circle cx="141.7" cy="93.5" r="1.95"/>
<circle cx="154.5" cy="93.2" r="1.95"/>
<circle cx="148.4" cy="95.6" r="1.95"/>
<circle cx="154.5" cy="98.2" r="1.95"/>
<circle cx="140" cy="99.3" r="1.95"/>
<circle cx="148.4" cy="103.2" r="1.95"/>
<circle cx="155.3" cy="105.3" r="1.95"/>
<circle cx="161.7" cy="108.2" r="1.95"/>
<circle cx="145.8" cy="108.2" r="1.95"/>
<circle cx="151.9" cy="110.4" r="1.95"/>
<circle cx="155.3" cy="115.6" r="1.95"/>
</g>
<g fill="#FFCC00">
<circle cx="144.5" cy="87" r="1.95"/>
<circle cx="147.1" cy="81.8" r="1.95"/>
</g>
<g fill="#00FF00">
<circle cx="155.3" cy="84.8" r="1.95"/>
<circle cx="160.8" cy="85.2" r="1.95"/>
<circle cx="164.3" cy="78.3" r="1.95"/>
<circle cx="162.1" cy="72.7" r="1.95"/>
<circle cx="167.7" cy="73.3" r="1.95"/>
<circle cx="173.1" cy="74.8" r="1.95"/>
<circle cx="179" cy="72" r="1.95"/>
<circle cx="170.3" cy="81.1" r="1.95"/>
<circle cx="104.9" cy="132.8" r="1.95"/>
</g>
<g fill="#0000FF">
<circle cx="167" cy="95.6" r="1.95"/>
<circle cx="175.1" cy="94.8" r="1.95"/>
<circle cx="181.2" cy="94.9" r="1.95"/>
<circle cx="171.4" cy="100.1" r="1.95"/>
</g>
<g fill="#CCFF00">
<circle cx="51" cy="103.9" r="1.95"/>
<circle cx="46.2" cy="98.6" r="1.95"/>
<circle cx="40.3" cy="98.6" r="1.95"/>
<circle cx="53.2" cy="97.9" r="1.95"/>
<circle cx="53.2" cy="92.1" r="1.95"/>
<circle cx="45.4" cy="105.2" r="1.95"/>
<circle cx="48.5" cy="108.9" r="1.95"/>
</g>
<g fill="#DD00FF">
<circle cx="30.3" cy="98.1" r="1.95"/>
<circle cx="23.7" cy="97.2" r="1.95"/>
<circle cx="17.4" cy="95.7" r="1.95"/>
</g>
<g fill="#00FF99">
<circle cx="36.4" cy="93.2" r="1.95"/>
<circle cx="33.2" cy="88.4" r="1.95"/>
</g>
<g fill="#00FF33">
<circle cx="111.3" cy="129" r="1.95"/>
<circle cx="117.9" cy="129.2" r="1.95"/>
<circle cx="113.4" cy="134.2" r="1.95"/>
<circle cx="119.3" cy="134.9" r="1.95"/>
<circle cx="116.1" cy="139.1" r="1.95"/>
<circle cx="100" cy="152.5" r="1.95"/>
<circle cx="107.8" cy="162" r="1.95"/>
<circle cx="108.3" cy="156.3" r="1.95"/>
<circle cx="114" cy="161.3" r="1.95"/>
<circle cx="114.7" cy="166.3" r="1.95"/>
<circle cx="110.4" cy="169" r="1.95"/>
<circle cx="105.6" cy="167.3" r="1.95"/>
<circle cx="156.9" cy="167" r="1.95"/>
<circle cx="151.8" cy="163.8" r="1.95"/>
<circle cx="157.3" cy="160.8" r="1.95"/>
<circle cx="163.9" cy="160.5" r="1.95"/>
<circle cx="163.5" cy="166.4" r="1.95"/>
<circle cx="162.1" cy="172.3" r="1.95"/>
<circle cx="155.8" cy="172.7" r="1.95"/>
</g>
<g fill="#FF0099">
<circle cx="125" cy="128.5" r="1.95"/>
<circle cx="131" cy="129.5" r="1.95"/>
<circle cx="99.6" cy="165.5" r="1.95"/>
<circle cx="97.5" cy="171.6" r="1.95"/>
<circle cx="102.1" cy="174.7" r="1.95"/>
</g>
<g fill="#0022FF">
<circle cx="90.4" cy="162.7" r="1.95"/>
<circle cx="87.9" cy="168.5" r="1.95"/>
<circle cx="90" cy="173.4" r="1.95"/>
<circle cx="90.1" cy="179.6" r="1.95"/>
</g>
<g fill="#0066FF">
<circle cx="78.1" cy="167.3" r="1.95"/>
<circle cx="76.3" cy="175.8" r="1.95"/>
<circle cx="73" cy="182.1" r="1.95"/>
<circle cx="72.1" cy="188.1" r="1.95"/>
<circle cx="79.1" cy="181.2" r="1.95"/>
</g>
<g fill="#00FFFF">
<circle cx="57.7" cy="125.4" r="1.95"/>
<circle cx="56.5" cy="119.2" r="1.95"/>
<circle cx="51.6" cy="122.3" r="1.95"/>
<circle cx="60" cy="133.3" r="1.95"/>
<circle cx="54.1" cy="129.9" r="1.95"/>
</g>
<g fill="#00FFDD">
<circle cx="31.2" cy="146.5" r="1.95"/>
<circle cx="23.4" cy="143.4" r="1.95"/>
<circle cx="21.7" cy="137.8" r="1.95"/>
<circle cx="17.3" cy="141.3" r="1.95"/>
<circle cx="18" cy="146.7" r="1.95"/>
<circle cx="27.1" cy="150.4" r="1.95"/>
</g>
<g fill="#FFFF00">
<circle cx="40.6" cy="176.9" r="1.95"/>
<circle cx="45.1" cy="180.7" r="1.95"/>
<circle cx="32.5" cy="175.1" r="1.95"/>
<circle cx="33.6" cy="169" r="1.95"/>
<circle cx="27.6" cy="171.4" r="1.95"/>
<circle cx="27.1" cy="178.4" r="1.95"/>
<circle cx="20.6" cy="176.2" r="1.95"/>
<circle cx="23.4" cy="184" r="1.95"/>
</g>
<g fill="#FF0055">
<circle cx="12.6" cy="172" r="1.95"/>
<circle cx="7.2" cy="169.9" r="1.95"/>
</g>
<g fill="#FF00FF">
<circle cx="14.6" cy="183.3" r="1.95"/>
<circle cx="8.5" cy="182.7" r="1.95"/>
<circle cx="11.1" cy="188.2" r="1.95"/>
</g>
<g fill="#00CCFF">
<circle cx="37.1" cy="193.2" r="1.95"/>
<circle cx="30.3" cy="194.6" r="1.95"/>
<circle cx="24.7" cy="197.2" r="1.95"/>
</g>
<g fill="#FF8800">
<circle cx="44" cy="193.6" r="1.95"/>
<circle cx="41.2" cy="201" r="1.95"/>
<circle cx="44.9" cy="199.3" r="1.95"/>
<circle cx="48.3" cy="201" r="1.95"/>
<circle cx="46.3" cy="204.9" r="1.95"/>
<circle cx="43" cy="203.8" r="1.95"/>
<circle cx="39.5" cy="206.2" r="1.95"/>
<circle cx="32.7" cy="205.9" r="1.95"/>
<circle cx="35.3" cy="210.1" r="1.95"/>
<circle cx="44.7" cy="211.6" r="1.95"/>
<circle cx="49.7" cy="215.5" r="1.95"/>
</g>
<g fill="#00FFBB">
<circle cx="36.3" cy="217.5" r="1.95"/>
<circle cx="30.1" cy="216.5" r="1.95"/>
<circle cx="30.3" cy="221.4" r="1.95"/>
<circle cx="34.1" cy="223.8" r="1.95"/>
<circle cx="38.5" cy="223.8" r="1.95"/>
<circle cx="41.9" cy="220" r="1.95"/>
</g>
<g fill="#FFDD00">
<circle cx="135.2" cy="187.2" r="1.95"/>
<circle cx="131.7" cy="182.2" r="1.95"/>
<circle cx="138.1" cy="182.2" r="1.95"/>
<circle cx="142.3" cy="186.5" r="1.95"/>
<circle cx="128.6" cy="188.8" r="1.95"/>
<circle cx="131" cy="194.1" r="1.95"/>
<circle cx="137" cy="192.7" r="1.95"/>
<circle cx="142.6" cy="192.2" r="1.95"/>
<circle cx="127.5" cy="199.9" r="1.95"/>
<circle cx="137.4" cy="198.4" r="1.95"/>
<circle cx="133.6" cy="205.9" r="1.95"/>
<circle cx="139.5" cy="207" r="1.95"/>
<circle cx="144.4" cy="203.7" r="1.95"/>
</g>
<g fill="#99FF00">
<circle cx="198.6" cy="163.8" r="1.95"/>
<circle cx="192.5" cy="163" r="1.95"/>
<circle cx="208.1" cy="166.8" r="1.95"/>
<circle cx="216.8" cy="166.8" r="1.95"/>
<circle cx="222.5" cy="165.6" r="1.95"/>
<circle cx="212.4" cy="172.2" r="1.95"/>
<circle cx="218" cy="172.5" r="1.95"/>
<circle cx="199.4" cy="174.8" r="1.95"/>
</g>
<g fill="#00BBFF">
<circle cx="208.1" cy="156" r="1.95"/>
<circle cx="214.7" cy="149.9" r="1.95"/>
<circle cx="220.6" cy="144.2" r="1.95"/>
<circle cx="222.9" cy="138.7" r="1.95"/>
<circle cx="226.3" cy="142.5" r="1.95"/>
</g>
</g>
<circle cx="238" cy="30.4" r="1.8" fill="#33FFFF"/>
<text x="243.3" y="33" class="lg">Unassigned</text>
<circle cx="238" cy="41.7" r="1.8" fill="#FF6666"/>
<text x="243.3" y="44.3" class="lg">Clade A</text>
<circle cx="238" cy="52.9" r="1.8" fill="#CC00CC"/>
<text x="243.3" y="55.5" class="lg">Clade C</text>
<circle cx="238" cy="64.2" r="1.8" fill="#009966"/>
<text x="243.3" y="66.8" class="lg">Clade D</text>
<circle cx="238" cy="75.5" r="1.8" fill="#FFFF00"/>
<text x="243.3" y="78.1" class="lg">Clade E</text>
<circle cx="238" cy="86.8" r="1.8" fill="#0000FF"/>
<text x="243.3" y="89.3" class="lg">Clade F</text>
<circle cx="238" cy="98" r="1.8" fill="#FF9900"/>
<text x="243.3" y="100.6" class="lg">Clade G</text>
<circle cx="238" cy="109.3" r="1.8" fill="#00CC66"/>
<text x="243.3" y="111.9" class="lg">Clade H</text>
<circle cx="238" cy="120.6" r="1.8" fill="#990033"/>
<text x="243.3" y="123.2" class="lg">Clade J</text>
<circle cx="238" cy="131.8" r="1.8" fill="#CCCCFF"/>
<text x="243.3" y="134.4" class="lg">Clade K</text>
<circle cx="238" cy="143.1" r="1.8" fill="#000000"/>
<text x="243.3" y="145.7" class="lg">Clade L</text>
<circle cx="238" cy="232.4" r="1.8" fill="#FF99CC"/>
<text x="243.3" y="235" class="lg">Clade 1A</text>
<circle cx="238" cy="243.7" r="1.8" fill="#66FF66"/>
<text x="243.3" y="246.3" class="lg">Clade 1B</text>
<circle cx="238" cy="254.9" r="1.8" fill="#FF00FF"/>
<text x="243.3" y="257.5" class="lg">Clade 1C</text>
<circle cx="238" cy="266.2" r="1.8" fill="#6666FF"/>
<text x="243.3" y="268.8" class="lg">Clade 1D</text>
<circle cx="238" cy="277.5" r="1.8" fill="#990099"/>
<text x="243.3" y="280.1" class="lg">Clade 1E</text>
<circle cx="238" cy="288.8" r="1.8" fill="#009999"/>
<text x="243.3" y="291.4" class="lg">Clade 1F</text>
<circle cx="238" cy="300" r="1.8" fill="#CC0000"/>
<text x="243.3" y="302.6" class="lg">Clade 1G</text>
<circle cx="238" cy="311.3" r="1.8" fill="#CCCCFF"/>
<text x="243.3" y="313.9" class="lg">Lineage 2</text>
<circle cx="238" cy="322.6" r="1.8" fill="#336600"/>
<text x="243.3" y="325.2" class="lg">Clade 3A</text>
<circle cx="238" cy="333.8" r="1.8" fill="#FFFF00"/>
<text x="243.3" y="336.4" class="lg">Clade 3B</text>
<circle cx="238" cy="345.1" r="1.8" fill="#FF0099"/>
<text x="243.3" y="347.7" class="lg">Clade 3C</text>
<circle cx="238" cy="356.4" r="1.8" fill="#000000"/>
<text x="243.3" y="359" class="lg">Clade 3D</text>
<circle cx="238" cy="367.6" r="1.8" fill="#FF0000"/>
<text x="243.3" y="370.2" class="lg">Clade 3E</text>
<circle cx="238" cy="378.9" r="1.8" fill="#FF9999"/>
<text x="243.3" y="381.5" class="lg">Clade 3F</text>
<circle cx="238" cy="390.2" r="1.8" fill="#CCFFCC"/>
<text x="243.3" y="392.8" class="lg">Clade 3G</text>
<circle cx="238" cy="401.4" r="1.8" fill="#000000"/>
<text x="243.3" y="404.1" class="lg">Unassigned 1</text>
<circle cx="238" cy="412.7" r="1.8" fill="#00FFFF"/>
<text x="243.3" y="415.3" class="lg">Unassigned 2</text>
<circle cx="238" cy="424" r="1.8" fill="#FF9933"/>
<text x="243.3" y="426.6" class="lg">Unassigned 3</text>
<circle cx="671.7" cy="39.8" r="1.8" fill="#CC0000"/>
<text x="677.1" y="42.4" class="lg">0</text>
<circle cx="671.7" cy="51.1" r="1.8" fill="#FFFF00"/>
<text x="677.1" y="53.7" class="lg">1</text>
<circle cx="671.7" cy="62.4" r="1.8" fill="#00FFFF"/>
<text x="677.1" y="65" class="lg">2</text>
<circle cx="671.7" cy="73.7" r="1.8" fill="#00CC66"/>
<text x="677.1" y="76.3" class="lg">3</text>
<circle cx="671.7" cy="85" r="1.8" fill="#66FF66"/>
<text x="677.1" y="87.6" class="lg">4</text>
<circle cx="671.7" cy="96.3" r="1.8" fill="#009999"/>
<text x="677.1" y="98.9" class="lg">5</text>
<circle cx="671.7" cy="107.6" r="1.8" fill="#0000FF"/>
<text x="677.1" y="110.2" class="lg">6</text>
<circle cx="671.7" cy="118.9" r="1.8" fill="#6666FF"/>
<text x="677.1" y="121.5" class="lg">7</text>
<circle cx="671.7" cy="130.2" r="1.8" fill="#FF00FF"/>
<text x="677.1" y="132.8" class="lg">8</text>
<circle cx="671.7" cy="141.5" r="1.8" fill="#FF6666"/>
<text x="677.1" y="144.1" class="lg">9</text>
<path d="M417.7 31.1L417.7 38.2L439.5 38.2L439.5 59.3M498.9 16.3L498.9 26.8L481.8 26.8L481.8 36.8M544.4 52.5L518.1 52.5L518.1 57.3L492.3 57.3M412.5 77.3L452.4 77.3L452.4 94.9L459 94.9M396.7 116.8L412.5 116.8L412.5 103.9L421.4 103.9M552.3 103.9L496.3 103.9L496.3 92.4L487.9 92.4M543.8 133.1L543.8 159.9L573.4 159.9L573.4 162.7M396.1 215.2L400.6 215.2L400.6 205.2L414 205.2M484.9 209.9L484.9 186.3L471 186.3L471 136.4M436.3 223.1L436.3 198.6L452 198.6L452 177.1" fill="none" stroke="#6f93d6" stroke-width="0.9"/>
<text class="lb" x="346.1" y="27.6" textLength="85.9" lengthAdjust="spacing">59255_NEBIH_2015_HU</text>
<text class="lb" x="485" y="15" textLength="136.1" lengthAdjust="spacing">PRRSV_1_1_Hungary_10027406_2012</text>
<text class="lb" x="544.9" y="51.5" textLength="84.8" lengthAdjust="spacing">48076_NEBIH_2016_HU</text>
<text class="lb" x="325" y="80" textLength="85.9" lengthAdjust="spacing">40551_NEBIH_2014_HU</text>
<text class="lb" x="311" y="119.2" textLength="85.4" lengthAdjust="spacing">66238_NEBIH_2016_HU</text>
<text class="lb" x="554.4" y="106.5" textLength="90.6" lengthAdjust="spacing">AF378797_Arnsberg_DEU</text>
<text class="lb" x="537" y="129.6" textLength="101.4" lengthAdjust="spacing">DQ345755_Esp28_2003_ESP</text>
<text class="lb" x="284.5" y="217" textLength="109.5" lengthAdjust="spacing">FJ705429_H_46_1a_2004_DEU</text>
<text class="lb" x="484.9" y="217.6" textLength="114.1" lengthAdjust="spacing">KF666907_CReSA_47_2007_ESP</text>
<text class="lb" x="423.1" y="233.5" textLength="101.2" lengthAdjust="spacing">JX075094_Rom3_2010_ROU</text>
<text class="pl" transform="translate(23.4 13.3) scale(0.88 1)">a</text>
<text class="pl" transform="translate(23.2 256.9) scale(0.88 1)">b</text>
<text class="pl" transform="translate(396 11.7) scale(0.88 1)">c</text>
<text class="pl" transform="translate(396.6 256.9) scale(0.88 1)">d</text>
</svg>
</body></html>
